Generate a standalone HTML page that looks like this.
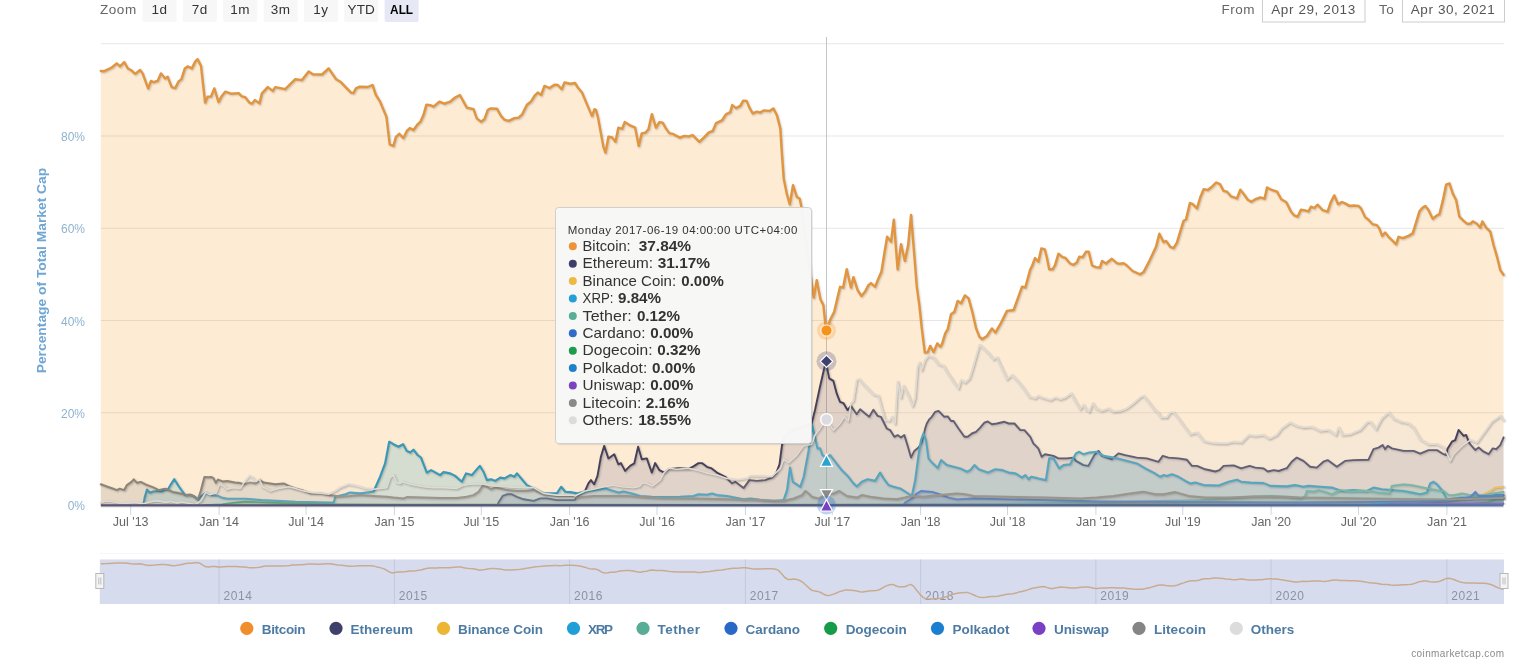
<!DOCTYPE html>
<html lang="en"><head><meta charset="utf-8"><title>Percentage of Total Market Cap</title>
<style>
html,body{margin:0;padding:0;background:#fff;}
body{width:1536px;height:671px;overflow:hidden;font-family:"Liberation Sans", "DejaVu Sans", sans-serif;}
svg{display:block;}
text{font-family:"Liberation Sans", "DejaVu Sans", sans-serif;}
</style></head><body>
<svg width="1536" height="671" viewBox="0 0 1536 671">
<rect width="1536" height="671" fill="#ffffff"/>

<g font-size="13.5px">
<text x="100" y="14.3" fill="#666666" letter-spacing="0.55">Zoom</text>
<rect x="142.5" y="-3" width="34" height="25" rx="2" fill="#f7f7f7"/>
<text x="159.5" y="14.2" text-anchor="middle" fill="#333333" letter-spacing="0.5">1d</text>
<rect x="182.8" y="-3" width="34" height="25" rx="2" fill="#f7f7f7"/>
<text x="199.8" y="14.2" text-anchor="middle" fill="#333333" letter-spacing="0.5">7d</text>
<rect x="223.2" y="-3" width="34" height="25" rx="2" fill="#f7f7f7"/>
<text x="240.2" y="14.2" text-anchor="middle" fill="#333333" letter-spacing="0.5">1m</text>
<rect x="263.6" y="-3" width="34" height="25" rx="2" fill="#f7f7f7"/>
<text x="280.6" y="14.2" text-anchor="middle" fill="#333333" letter-spacing="0.5">3m</text>
<rect x="303.9" y="-3" width="34" height="25" rx="2" fill="#f7f7f7"/>
<text x="320.9" y="14.2" text-anchor="middle" fill="#333333" letter-spacing="0.5">1y</text>
<rect x="344.2" y="-3" width="34" height="25" rx="2" fill="#f7f7f7"/>
<text x="361.2" y="14.2" text-anchor="middle" fill="#333333" letter-spacing="0.1">YTD</text>
<rect x="384.6" y="-3" width="34" height="25" rx="2" fill="#e6e9f5"/>
<text x="401.6" y="14.2" text-anchor="middle" fill="#000000" font-weight="bold" textLength="23" lengthAdjust="spacingAndGlyphs">ALL</text>
</g>
<g font-size="13.5px" fill="#666666">
<text x="1221.5" y="14.4" letter-spacing="0.5">From</text>
<rect x="1262.5" y="-3" width="102.5" height="25" fill="#ffffff" stroke="#cccccc" stroke-width="1"/>
<text x="1313.5" y="14.4" text-anchor="middle" fill="#555555" letter-spacing="0.6">Apr 29, 2013</text>
<text x="1379" y="14.4" letter-spacing="0.5">To</text>
<rect x="1402.5" y="-3" width="102" height="25" fill="#ffffff" stroke="#cccccc" stroke-width="1"/>
<text x="1453" y="14.4" text-anchor="middle" fill="#555555" letter-spacing="0.6">Apr 30, 2021</text>
</g>
<line x1="100.8" x2="1504.0" y1="43.75" y2="43.75" stroke="#e6e6e6" stroke-width="1.2"/>
<line x1="100.8" x2="1504.0" y1="136.00" y2="136.00" stroke="#e6e6e6" stroke-width="1.2"/>
<line x1="100.8" x2="1504.0" y1="228.25" y2="228.25" stroke="#e6e6e6" stroke-width="1.2"/>
<line x1="100.8" x2="1504.0" y1="320.50" y2="320.50" stroke="#e6e6e6" stroke-width="1.2"/>
<line x1="100.8" x2="1504.0" y1="412.75" y2="412.75" stroke="#e6e6e6" stroke-width="1.2"/>
<g font-size="12px" fill="#8fb3cf" text-anchor="end">
<text x="85" y="141.0">80%</text>
<text x="85" y="233.2">60%</text>
<text x="85" y="325.5">40%</text>
<text x="85" y="417.8">20%</text>
<text x="85" y="510.0">0%</text>
</g>
<text transform="translate(46.3 373.3) rotate(-90)" textLength="205.5" lengthAdjust="spacingAndGlyphs" font-size="13.5px" font-weight="bold" fill="#6fa6d4">Percentage of Total Market Cap</text>
<g font-size="12.5px" fill="#666666" text-anchor="middle">
<line x1="130.7" x2="130.7" y1="505" y2="515" stroke="#ccd6eb" stroke-width="1"/>
<text x="130.7" y="526.3" letter-spacing="0">Jul &#39;13</text>
<line x1="219.1" x2="219.1" y1="505" y2="515" stroke="#ccd6eb" stroke-width="1"/>
<text x="219.1" y="526.3" letter-spacing="0">Jan &#39;14</text>
<line x1="306.0" x2="306.0" y1="505" y2="515" stroke="#ccd6eb" stroke-width="1"/>
<text x="306.0" y="526.3" letter-spacing="0">Jul &#39;14</text>
<line x1="394.4" x2="394.4" y1="505" y2="515" stroke="#ccd6eb" stroke-width="1"/>
<text x="394.4" y="526.3" letter-spacing="0">Jan &#39;15</text>
<line x1="481.3" x2="481.3" y1="505" y2="515" stroke="#ccd6eb" stroke-width="1"/>
<text x="481.3" y="526.3" letter-spacing="0">Jul &#39;15</text>
<line x1="569.6" x2="569.6" y1="505" y2="515" stroke="#ccd6eb" stroke-width="1"/>
<text x="569.6" y="526.3" letter-spacing="0">Jan &#39;16</text>
<line x1="657.0" x2="657.0" y1="505" y2="515" stroke="#ccd6eb" stroke-width="1"/>
<text x="657.0" y="526.3" letter-spacing="0">Jul &#39;16</text>
<line x1="745.4" x2="745.4" y1="505" y2="515" stroke="#ccd6eb" stroke-width="1"/>
<text x="745.4" y="526.3" letter-spacing="0">Jan &#39;17</text>
<line x1="832.3" x2="832.3" y1="505" y2="515" stroke="#ccd6eb" stroke-width="1"/>
<text x="832.3" y="526.3" letter-spacing="0">Jul &#39;17</text>
<line x1="920.6" x2="920.6" y1="505" y2="515" stroke="#ccd6eb" stroke-width="1"/>
<text x="920.6" y="526.3" letter-spacing="0">Jan &#39;18</text>
<line x1="1007.5" x2="1007.5" y1="505" y2="515" stroke="#ccd6eb" stroke-width="1"/>
<text x="1007.5" y="526.3" letter-spacing="0">Jul &#39;18</text>
<line x1="1095.9" x2="1095.9" y1="505" y2="515" stroke="#ccd6eb" stroke-width="1"/>
<text x="1095.9" y="526.3" letter-spacing="0">Jan &#39;19</text>
<line x1="1182.8" x2="1182.8" y1="505" y2="515" stroke="#ccd6eb" stroke-width="1"/>
<text x="1182.8" y="526.3" letter-spacing="0">Jul &#39;19</text>
<line x1="1271.1" x2="1271.1" y1="505" y2="515" stroke="#ccd6eb" stroke-width="1"/>
<text x="1271.1" y="526.3" letter-spacing="0">Jan &#39;20</text>
<line x1="1358.5" x2="1358.5" y1="505" y2="515" stroke="#ccd6eb" stroke-width="1"/>
<text x="1358.5" y="526.3" letter-spacing="0">Jul &#39;20</text>
<line x1="1446.9" x2="1446.9" y1="505" y2="515" stroke="#ccd6eb" stroke-width="1"/>
<text x="1446.9" y="526.3" letter-spacing="0">Jan &#39;21</text>
</g>
<line x1="826.5" x2="826.5" y1="37" y2="505" stroke="#c6c6c6" stroke-width="1"/>
<clipPath id="plotclip"><rect x="98.8" y="30" width="1408.7" height="474.8"/></clipPath>
<g stroke-linejoin="round" stroke-linecap="round">
<path d="M100.8 70.9 L104.2 71.2 L111.7 67.5 L116.7 63.4 L120.0 66.4 L124.2 62.2 L128.0 68.7 L130.9 70.0 L135.1 73.9 L140.1 70.0 L142.6 73.4 L148.1 88.4 L150.9 80.9 L153.4 82.2 L157.6 80.9 L160.9 73.4 L165.1 78.4 L167.6 76.7 L171.8 87.2 L175.1 88.1 L178.4 81.7 L181.4 79.2 L184.8 68.4 L187.6 66.4 L191.8 68.4 L195.1 61.7 L197.6 59.2 L201.0 65.9 L205.1 102.6 L207.6 96.7 L211.0 96.4 L214.3 88.4 L218.5 102.1 L221.8 95.9 L225.2 91.7 L231.0 93.7 L238.5 93.1 L241.9 96.4 L245.2 97.2 L249.4 102.6 L251.9 103.7 L254.9 100.1 L259.4 103.4 L261.9 93.4 L267.7 87.1 L272.7 90.9 L275.2 87.1 L285.2 89.2 L295.3 79.2 L301.9 80.1 L308.6 71.4 L312.8 74.2 L322.0 74.5 L328.6 68.4 L336.1 79.2 L340.3 81.7 L351.0 92.6 L353.4 93.0 L355.9 88.4 L359.2 86.7 L367.5 87.0 L372.5 85.0 L375.9 95.0 L380.1 101.7 L386.4 116.7 L389.7 144.3 L393.4 145.9 L395.9 136.8 L399.2 133.8 L403.4 138.1 L406.8 130.9 L409.8 128.1 L413.4 130.1 L417.6 124.3 L420.4 121.7 L423.4 115.1 L426.4 104.7 L430.1 105.1 L433.5 106.7 L439.3 101.7 L444.3 103.7 L450.1 101.7 L455.1 97.5 L459.8 95.0 L463.5 101.7 L466.8 107.6 L473.5 109.2 L476.8 118.4 L481.0 121.7 L484.4 119.2 L487.7 110.1 L490.2 108.4 L496.9 108.7 L501.0 115.9 L504.4 119.7 L508.6 120.9 L514.4 118.1 L518.6 117.6 L521.9 114.7 L526.9 104.7 L531.1 101.4 L534.4 95.9 L537.8 92.5 L541.1 95.0 L544.4 85.9 L549.4 88.0 L554.4 84.7 L557.8 85.0 L561.6 89.2 L564.5 82.5 L570.3 83.7 L575.0 83.0 L577.8 87.5 L582.0 92.5 L588.7 108.4 L592.0 115.9 L594.5 109.2 L596.0 110.1 L598.0 117.6 L600.9 133.4 L603.4 146.8 L605.4 152.6 L608.4 136.8 L611.7 137.1 L615.4 141.8 L618.4 127.6 L622.1 128.8 L624.7 122.1 L630.1 125.4 L635.1 127.6 L638.7 145.9 L641.7 133.4 L645.4 132.6 L648.4 129.3 L651.8 114.2 L655.9 127.6 L659.3 122.1 L662.6 122.6 L665.9 128.4 L669.3 133.1 L672.6 133.8 L679.8 137.6 L684.3 135.9 L688.5 136.4 L692.6 135.1 L699.3 141.8 L704.3 137.1 L708.5 132.6 L712.7 130.9 L716.0 123.1 L721.9 120.4 L726.0 114.2 L730.2 112.1 L732.2 105.1 L736.0 108.1 L740.2 105.9 L743.2 100.6 L746.6 100.9 L749.4 107.6 L752.7 113.4 L756.9 111.7 L760.2 112.6 L763.6 110.4 L769.4 110.9 L773.3 108.4 L776.9 115.1 L780.3 128.4 L781.9 153.5 L783.7 178.4 L786.7 193.4 L789.7 204.3 L793.0 185.1 L796.7 196.7 L799.7 198.7 L801.4 206.8 L813.7 297.6 L816.7 280.1 L820.4 299.3 L823.4 305.1 L826.0 330.5 L830.0 320.1 L834.2 311.7 L837.5 297.6 L840.1 286.8 L843.1 287.6 L846.7 269.3 L850.9 287.6 L853.4 277.1 L857.6 290.1 L861.4 296.0 L865.1 291.5 L868.4 285.1 L870.9 283.1 L875.1 286.8 L878.4 278.4 L881.4 271.8 L884.3 253.4 L887.1 236.7 L891.0 241.7 L893.8 219.7 L897.6 269.3 L901.0 244.2 L904.8 260.9 L908.1 245.1 L911.0 215.0 L914.3 255.1 L916.8 286.8 L919.3 305.0 L921.8 328.4 L924.8 352.6 L927.7 352.1 L930.2 345.9 L933.5 352.1 L937.2 343.4 L940.2 346.8 L941.9 344.3 L945.2 333.4 L947.7 329.2 L951.0 314.2 L954.4 311.7 L957.7 300.9 L961.0 303.4 L964.9 295.4 L968.6 298.4 L972.7 313.4 L976.1 328.4 L979.4 336.7 L981.9 339.2 L986.9 335.9 L991.9 328.4 L995.3 332.6 L1000.3 324.2 L1006.9 310.9 L1013.6 310.0 L1017.8 298.4 L1022.0 286.7 L1025.3 287.5 L1030.0 270.1 L1032.0 266.0 L1035.0 258.1 L1038.3 261.8 L1041.3 248.4 L1044.7 249.3 L1046.7 256.8 L1049.2 269.3 L1052.5 269.3 L1055.0 265.1 L1058.4 253.8 L1062.5 257.1 L1065.0 257.6 L1070.1 263.5 L1073.4 264.8 L1076.7 262.6 L1079.2 256.8 L1082.6 257.1 L1085.9 251.8 L1088.7 251.8 L1092.1 265.5 L1095.9 267.1 L1099.8 267.6 L1102.1 261.0 L1105.9 263.5 L1111.8 258.8 L1116.8 263.1 L1120.1 263.8 L1123.5 263.1 L1126.8 265.5 L1132.6 271.0 L1140.1 274.3 L1143.5 272.1 L1149.3 261.0 L1156.0 246.8 L1159.3 233.7 L1163.5 242.1 L1166.0 240.9 L1170.2 246.8 L1173.5 248.1 L1176.9 242.6 L1180.2 231.7 L1183.5 220.9 L1186.0 219.2 L1189.9 203.0 L1192.7 204.2 L1196.9 208.4 L1200.2 197.5 L1203.6 189.2 L1207.7 190.0 L1211.9 186.7 L1216.1 182.5 L1219.9 184.2 L1223.6 190.9 L1226.9 191.7 L1231.1 196.4 L1236.9 198.4 L1240.3 189.7 L1244.4 195.0 L1247.8 199.7 L1251.1 201.7 L1255.3 199.2 L1260.3 197.5 L1264.5 198.7 L1267.0 187.5 L1271.1 189.7 L1277.0 191.7 L1281.2 199.2 L1286.0 202.0 L1286.7 203.0 L1290.9 211.4 L1294.2 215.4 L1297.5 216.7 L1300.9 209.7 L1305.0 210.4 L1308.4 211.4 L1310.9 206.7 L1314.2 208.0 L1317.6 204.7 L1322.6 210.1 L1327.6 211.7 L1330.9 201.7 L1334.3 195.4 L1338.1 204.2 L1341.8 202.0 L1345.1 203.4 L1349.3 205.9 L1353.4 205.5 L1358.4 205.9 L1361.0 208.4 L1365.1 217.1 L1368.5 219.7 L1372.6 224.2 L1376.8 225.1 L1379.3 228.4 L1382.1 235.9 L1385.1 232.6 L1388.5 236.8 L1392.7 240.9 L1396.0 244.3 L1398.5 236.8 L1402.7 238.1 L1408.5 235.9 L1412.7 233.4 L1416.0 222.6 L1419.4 211.4 L1422.7 207.5 L1425.2 205.9 L1428.5 210.1 L1432.7 218.7 L1436.9 215.4 L1439.4 214.2 L1442.7 200.9 L1446.1 184.7 L1449.4 183.4 L1452.7 193.4 L1456.1 200.0 L1459.4 216.7 L1463.6 220.9 L1466.9 223.7 L1470.3 223.7 L1472.8 221.4 L1476.9 223.7 L1480.3 227.6 L1482.3 221.4 L1486.1 227.6 L1490.3 231.7 L1493.6 245.1 L1497.0 256.8 L1500.3 270.1 L1503.5 274.8 L1503.5 505.0 L100.8 505.0 Z" fill="#f7931a" fill-opacity="0.19" stroke="none"/>
<g clip-path="url(#plotclip)">
<path d="M100.8 70.9 L104.2 71.2 L111.7 67.5 L116.7 63.4 L120.0 66.4 L124.2 62.2 L128.0 68.7 L130.9 70.0 L135.1 73.9 L140.1 70.0 L142.6 73.4 L148.1 88.4 L150.9 80.9 L153.4 82.2 L157.6 80.9 L160.9 73.4 L165.1 78.4 L167.6 76.7 L171.8 87.2 L175.1 88.1 L178.4 81.7 L181.4 79.2 L184.8 68.4 L187.6 66.4 L191.8 68.4 L195.1 61.7 L197.6 59.2 L201.0 65.9 L205.1 102.6 L207.6 96.7 L211.0 96.4 L214.3 88.4 L218.5 102.1 L221.8 95.9 L225.2 91.7 L231.0 93.7 L238.5 93.1 L241.9 96.4 L245.2 97.2 L249.4 102.6 L251.9 103.7 L254.9 100.1 L259.4 103.4 L261.9 93.4 L267.7 87.1 L272.7 90.9 L275.2 87.1 L285.2 89.2 L295.3 79.2 L301.9 80.1 L308.6 71.4 L312.8 74.2 L322.0 74.5 L328.6 68.4 L336.1 79.2 L340.3 81.7 L351.0 92.6 L353.4 93.0 L355.9 88.4 L359.2 86.7 L367.5 87.0 L372.5 85.0 L375.9 95.0 L380.1 101.7 L386.4 116.7 L389.7 144.3 L393.4 145.9 L395.9 136.8 L399.2 133.8 L403.4 138.1 L406.8 130.9 L409.8 128.1 L413.4 130.1 L417.6 124.3 L420.4 121.7 L423.4 115.1 L426.4 104.7 L430.1 105.1 L433.5 106.7 L439.3 101.7 L444.3 103.7 L450.1 101.7 L455.1 97.5 L459.8 95.0 L463.5 101.7 L466.8 107.6 L473.5 109.2 L476.8 118.4 L481.0 121.7 L484.4 119.2 L487.7 110.1 L490.2 108.4 L496.9 108.7 L501.0 115.9 L504.4 119.7 L508.6 120.9 L514.4 118.1 L518.6 117.6 L521.9 114.7 L526.9 104.7 L531.1 101.4 L534.4 95.9 L537.8 92.5 L541.1 95.0 L544.4 85.9 L549.4 88.0 L554.4 84.7 L557.8 85.0 L561.6 89.2 L564.5 82.5 L570.3 83.7 L575.0 83.0 L577.8 87.5 L582.0 92.5 L588.7 108.4 L592.0 115.9 L594.5 109.2 L596.0 110.1 L598.0 117.6 L600.9 133.4 L603.4 146.8 L605.4 152.6 L608.4 136.8 L611.7 137.1 L615.4 141.8 L618.4 127.6 L622.1 128.8 L624.7 122.1 L630.1 125.4 L635.1 127.6 L638.7 145.9 L641.7 133.4 L645.4 132.6 L648.4 129.3 L651.8 114.2 L655.9 127.6 L659.3 122.1 L662.6 122.6 L665.9 128.4 L669.3 133.1 L672.6 133.8 L679.8 137.6 L684.3 135.9 L688.5 136.4 L692.6 135.1 L699.3 141.8 L704.3 137.1 L708.5 132.6 L712.7 130.9 L716.0 123.1 L721.9 120.4 L726.0 114.2 L730.2 112.1 L732.2 105.1 L736.0 108.1 L740.2 105.9 L743.2 100.6 L746.6 100.9 L749.4 107.6 L752.7 113.4 L756.9 111.7 L760.2 112.6 L763.6 110.4 L769.4 110.9 L773.3 108.4 L776.9 115.1 L780.3 128.4 L781.9 153.5 L783.7 178.4 L786.7 193.4 L789.7 204.3 L793.0 185.1 L796.7 196.7 L799.7 198.7 L801.4 206.8 L813.7 297.6 L816.7 280.1 L820.4 299.3 L823.4 305.1 L826.0 330.5 L830.0 320.1 L834.2 311.7 L837.5 297.6 L840.1 286.8 L843.1 287.6 L846.7 269.3 L850.9 287.6 L853.4 277.1 L857.6 290.1 L861.4 296.0 L865.1 291.5 L868.4 285.1 L870.9 283.1 L875.1 286.8 L878.4 278.4 L881.4 271.8 L884.3 253.4 L887.1 236.7 L891.0 241.7 L893.8 219.7 L897.6 269.3 L901.0 244.2 L904.8 260.9 L908.1 245.1 L911.0 215.0 L914.3 255.1 L916.8 286.8 L919.3 305.0 L921.8 328.4 L924.8 352.6 L927.7 352.1 L930.2 345.9 L933.5 352.1 L937.2 343.4 L940.2 346.8 L941.9 344.3 L945.2 333.4 L947.7 329.2 L951.0 314.2 L954.4 311.7 L957.7 300.9 L961.0 303.4 L964.9 295.4 L968.6 298.4 L972.7 313.4 L976.1 328.4 L979.4 336.7 L981.9 339.2 L986.9 335.9 L991.9 328.4 L995.3 332.6 L1000.3 324.2 L1006.9 310.9 L1013.6 310.0 L1017.8 298.4 L1022.0 286.7 L1025.3 287.5 L1030.0 270.1 L1032.0 266.0 L1035.0 258.1 L1038.3 261.8 L1041.3 248.4 L1044.7 249.3 L1046.7 256.8 L1049.2 269.3 L1052.5 269.3 L1055.0 265.1 L1058.4 253.8 L1062.5 257.1 L1065.0 257.6 L1070.1 263.5 L1073.4 264.8 L1076.7 262.6 L1079.2 256.8 L1082.6 257.1 L1085.9 251.8 L1088.7 251.8 L1092.1 265.5 L1095.9 267.1 L1099.8 267.6 L1102.1 261.0 L1105.9 263.5 L1111.8 258.8 L1116.8 263.1 L1120.1 263.8 L1123.5 263.1 L1126.8 265.5 L1132.6 271.0 L1140.1 274.3 L1143.5 272.1 L1149.3 261.0 L1156.0 246.8 L1159.3 233.7 L1163.5 242.1 L1166.0 240.9 L1170.2 246.8 L1173.5 248.1 L1176.9 242.6 L1180.2 231.7 L1183.5 220.9 L1186.0 219.2 L1189.9 203.0 L1192.7 204.2 L1196.9 208.4 L1200.2 197.5 L1203.6 189.2 L1207.7 190.0 L1211.9 186.7 L1216.1 182.5 L1219.9 184.2 L1223.6 190.9 L1226.9 191.7 L1231.1 196.4 L1236.9 198.4 L1240.3 189.7 L1244.4 195.0 L1247.8 199.7 L1251.1 201.7 L1255.3 199.2 L1260.3 197.5 L1264.5 198.7 L1267.0 187.5 L1271.1 189.7 L1277.0 191.7 L1281.2 199.2 L1286.0 202.0 L1286.7 203.0 L1290.9 211.4 L1294.2 215.4 L1297.5 216.7 L1300.9 209.7 L1305.0 210.4 L1308.4 211.4 L1310.9 206.7 L1314.2 208.0 L1317.6 204.7 L1322.6 210.1 L1327.6 211.7 L1330.9 201.7 L1334.3 195.4 L1338.1 204.2 L1341.8 202.0 L1345.1 203.4 L1349.3 205.9 L1353.4 205.5 L1358.4 205.9 L1361.0 208.4 L1365.1 217.1 L1368.5 219.7 L1372.6 224.2 L1376.8 225.1 L1379.3 228.4 L1382.1 235.9 L1385.1 232.6 L1388.5 236.8 L1392.7 240.9 L1396.0 244.3 L1398.5 236.8 L1402.7 238.1 L1408.5 235.9 L1412.7 233.4 L1416.0 222.6 L1419.4 211.4 L1422.7 207.5 L1425.2 205.9 L1428.5 210.1 L1432.7 218.7 L1436.9 215.4 L1439.4 214.2 L1442.7 200.9 L1446.1 184.7 L1449.4 183.4 L1452.7 193.4 L1456.1 200.0 L1459.4 216.7 L1463.6 220.9 L1466.9 223.7 L1470.3 223.7 L1472.8 221.4 L1476.9 223.7 L1480.3 227.6 L1482.3 221.4 L1486.1 227.6 L1490.3 231.7 L1493.6 245.1 L1497.0 256.8 L1500.3 270.1 L1503.5 274.8" transform="translate(1 1)" fill="none" stroke="#000000" stroke-opacity="0.035" stroke-width="5"/>
<path d="M100.8 70.9 L104.2 71.2 L111.7 67.5 L116.7 63.4 L120.0 66.4 L124.2 62.2 L128.0 68.7 L130.9 70.0 L135.1 73.9 L140.1 70.0 L142.6 73.4 L148.1 88.4 L150.9 80.9 L153.4 82.2 L157.6 80.9 L160.9 73.4 L165.1 78.4 L167.6 76.7 L171.8 87.2 L175.1 88.1 L178.4 81.7 L181.4 79.2 L184.8 68.4 L187.6 66.4 L191.8 68.4 L195.1 61.7 L197.6 59.2 L201.0 65.9 L205.1 102.6 L207.6 96.7 L211.0 96.4 L214.3 88.4 L218.5 102.1 L221.8 95.9 L225.2 91.7 L231.0 93.7 L238.5 93.1 L241.9 96.4 L245.2 97.2 L249.4 102.6 L251.9 103.7 L254.9 100.1 L259.4 103.4 L261.9 93.4 L267.7 87.1 L272.7 90.9 L275.2 87.1 L285.2 89.2 L295.3 79.2 L301.9 80.1 L308.6 71.4 L312.8 74.2 L322.0 74.5 L328.6 68.4 L336.1 79.2 L340.3 81.7 L351.0 92.6 L353.4 93.0 L355.9 88.4 L359.2 86.7 L367.5 87.0 L372.5 85.0 L375.9 95.0 L380.1 101.7 L386.4 116.7 L389.7 144.3 L393.4 145.9 L395.9 136.8 L399.2 133.8 L403.4 138.1 L406.8 130.9 L409.8 128.1 L413.4 130.1 L417.6 124.3 L420.4 121.7 L423.4 115.1 L426.4 104.7 L430.1 105.1 L433.5 106.7 L439.3 101.7 L444.3 103.7 L450.1 101.7 L455.1 97.5 L459.8 95.0 L463.5 101.7 L466.8 107.6 L473.5 109.2 L476.8 118.4 L481.0 121.7 L484.4 119.2 L487.7 110.1 L490.2 108.4 L496.9 108.7 L501.0 115.9 L504.4 119.7 L508.6 120.9 L514.4 118.1 L518.6 117.6 L521.9 114.7 L526.9 104.7 L531.1 101.4 L534.4 95.9 L537.8 92.5 L541.1 95.0 L544.4 85.9 L549.4 88.0 L554.4 84.7 L557.8 85.0 L561.6 89.2 L564.5 82.5 L570.3 83.7 L575.0 83.0 L577.8 87.5 L582.0 92.5 L588.7 108.4 L592.0 115.9 L594.5 109.2 L596.0 110.1 L598.0 117.6 L600.9 133.4 L603.4 146.8 L605.4 152.6 L608.4 136.8 L611.7 137.1 L615.4 141.8 L618.4 127.6 L622.1 128.8 L624.7 122.1 L630.1 125.4 L635.1 127.6 L638.7 145.9 L641.7 133.4 L645.4 132.6 L648.4 129.3 L651.8 114.2 L655.9 127.6 L659.3 122.1 L662.6 122.6 L665.9 128.4 L669.3 133.1 L672.6 133.8 L679.8 137.6 L684.3 135.9 L688.5 136.4 L692.6 135.1 L699.3 141.8 L704.3 137.1 L708.5 132.6 L712.7 130.9 L716.0 123.1 L721.9 120.4 L726.0 114.2 L730.2 112.1 L732.2 105.1 L736.0 108.1 L740.2 105.9 L743.2 100.6 L746.6 100.9 L749.4 107.6 L752.7 113.4 L756.9 111.7 L760.2 112.6 L763.6 110.4 L769.4 110.9 L773.3 108.4 L776.9 115.1 L780.3 128.4 L781.9 153.5 L783.7 178.4 L786.7 193.4 L789.7 204.3 L793.0 185.1 L796.7 196.7 L799.7 198.7 L801.4 206.8 L813.7 297.6 L816.7 280.1 L820.4 299.3 L823.4 305.1 L826.0 330.5 L830.0 320.1 L834.2 311.7 L837.5 297.6 L840.1 286.8 L843.1 287.6 L846.7 269.3 L850.9 287.6 L853.4 277.1 L857.6 290.1 L861.4 296.0 L865.1 291.5 L868.4 285.1 L870.9 283.1 L875.1 286.8 L878.4 278.4 L881.4 271.8 L884.3 253.4 L887.1 236.7 L891.0 241.7 L893.8 219.7 L897.6 269.3 L901.0 244.2 L904.8 260.9 L908.1 245.1 L911.0 215.0 L914.3 255.1 L916.8 286.8 L919.3 305.0 L921.8 328.4 L924.8 352.6 L927.7 352.1 L930.2 345.9 L933.5 352.1 L937.2 343.4 L940.2 346.8 L941.9 344.3 L945.2 333.4 L947.7 329.2 L951.0 314.2 L954.4 311.7 L957.7 300.9 L961.0 303.4 L964.9 295.4 L968.6 298.4 L972.7 313.4 L976.1 328.4 L979.4 336.7 L981.9 339.2 L986.9 335.9 L991.9 328.4 L995.3 332.6 L1000.3 324.2 L1006.9 310.9 L1013.6 310.0 L1017.8 298.4 L1022.0 286.7 L1025.3 287.5 L1030.0 270.1 L1032.0 266.0 L1035.0 258.1 L1038.3 261.8 L1041.3 248.4 L1044.7 249.3 L1046.7 256.8 L1049.2 269.3 L1052.5 269.3 L1055.0 265.1 L1058.4 253.8 L1062.5 257.1 L1065.0 257.6 L1070.1 263.5 L1073.4 264.8 L1076.7 262.6 L1079.2 256.8 L1082.6 257.1 L1085.9 251.8 L1088.7 251.8 L1092.1 265.5 L1095.9 267.1 L1099.8 267.6 L1102.1 261.0 L1105.9 263.5 L1111.8 258.8 L1116.8 263.1 L1120.1 263.8 L1123.5 263.1 L1126.8 265.5 L1132.6 271.0 L1140.1 274.3 L1143.5 272.1 L1149.3 261.0 L1156.0 246.8 L1159.3 233.7 L1163.5 242.1 L1166.0 240.9 L1170.2 246.8 L1173.5 248.1 L1176.9 242.6 L1180.2 231.7 L1183.5 220.9 L1186.0 219.2 L1189.9 203.0 L1192.7 204.2 L1196.9 208.4 L1200.2 197.5 L1203.6 189.2 L1207.7 190.0 L1211.9 186.7 L1216.1 182.5 L1219.9 184.2 L1223.6 190.9 L1226.9 191.7 L1231.1 196.4 L1236.9 198.4 L1240.3 189.7 L1244.4 195.0 L1247.8 199.7 L1251.1 201.7 L1255.3 199.2 L1260.3 197.5 L1264.5 198.7 L1267.0 187.5 L1271.1 189.7 L1277.0 191.7 L1281.2 199.2 L1286.0 202.0 L1286.7 203.0 L1290.9 211.4 L1294.2 215.4 L1297.5 216.7 L1300.9 209.7 L1305.0 210.4 L1308.4 211.4 L1310.9 206.7 L1314.2 208.0 L1317.6 204.7 L1322.6 210.1 L1327.6 211.7 L1330.9 201.7 L1334.3 195.4 L1338.1 204.2 L1341.8 202.0 L1345.1 203.4 L1349.3 205.9 L1353.4 205.5 L1358.4 205.9 L1361.0 208.4 L1365.1 217.1 L1368.5 219.7 L1372.6 224.2 L1376.8 225.1 L1379.3 228.4 L1382.1 235.9 L1385.1 232.6 L1388.5 236.8 L1392.7 240.9 L1396.0 244.3 L1398.5 236.8 L1402.7 238.1 L1408.5 235.9 L1412.7 233.4 L1416.0 222.6 L1419.4 211.4 L1422.7 207.5 L1425.2 205.9 L1428.5 210.1 L1432.7 218.7 L1436.9 215.4 L1439.4 214.2 L1442.7 200.9 L1446.1 184.7 L1449.4 183.4 L1452.7 193.4 L1456.1 200.0 L1459.4 216.7 L1463.6 220.9 L1466.9 223.7 L1470.3 223.7 L1472.8 221.4 L1476.9 223.7 L1480.3 227.6 L1482.3 221.4 L1486.1 227.6 L1490.3 231.7 L1493.6 245.1 L1497.0 256.8 L1500.3 270.1 L1503.5 274.8" transform="translate(1 1)" fill="none" stroke="#000000" stroke-opacity="0.07" stroke-width="3"/>
<path d="M100.8 70.9 L104.2 71.2 L111.7 67.5 L116.7 63.4 L120.0 66.4 L124.2 62.2 L128.0 68.7 L130.9 70.0 L135.1 73.9 L140.1 70.0 L142.6 73.4 L148.1 88.4 L150.9 80.9 L153.4 82.2 L157.6 80.9 L160.9 73.4 L165.1 78.4 L167.6 76.7 L171.8 87.2 L175.1 88.1 L178.4 81.7 L181.4 79.2 L184.8 68.4 L187.6 66.4 L191.8 68.4 L195.1 61.7 L197.6 59.2 L201.0 65.9 L205.1 102.6 L207.6 96.7 L211.0 96.4 L214.3 88.4 L218.5 102.1 L221.8 95.9 L225.2 91.7 L231.0 93.7 L238.5 93.1 L241.9 96.4 L245.2 97.2 L249.4 102.6 L251.9 103.7 L254.9 100.1 L259.4 103.4 L261.9 93.4 L267.7 87.1 L272.7 90.9 L275.2 87.1 L285.2 89.2 L295.3 79.2 L301.9 80.1 L308.6 71.4 L312.8 74.2 L322.0 74.5 L328.6 68.4 L336.1 79.2 L340.3 81.7 L351.0 92.6 L353.4 93.0 L355.9 88.4 L359.2 86.7 L367.5 87.0 L372.5 85.0 L375.9 95.0 L380.1 101.7 L386.4 116.7 L389.7 144.3 L393.4 145.9 L395.9 136.8 L399.2 133.8 L403.4 138.1 L406.8 130.9 L409.8 128.1 L413.4 130.1 L417.6 124.3 L420.4 121.7 L423.4 115.1 L426.4 104.7 L430.1 105.1 L433.5 106.7 L439.3 101.7 L444.3 103.7 L450.1 101.7 L455.1 97.5 L459.8 95.0 L463.5 101.7 L466.8 107.6 L473.5 109.2 L476.8 118.4 L481.0 121.7 L484.4 119.2 L487.7 110.1 L490.2 108.4 L496.9 108.7 L501.0 115.9 L504.4 119.7 L508.6 120.9 L514.4 118.1 L518.6 117.6 L521.9 114.7 L526.9 104.7 L531.1 101.4 L534.4 95.9 L537.8 92.5 L541.1 95.0 L544.4 85.9 L549.4 88.0 L554.4 84.7 L557.8 85.0 L561.6 89.2 L564.5 82.5 L570.3 83.7 L575.0 83.0 L577.8 87.5 L582.0 92.5 L588.7 108.4 L592.0 115.9 L594.5 109.2 L596.0 110.1 L598.0 117.6 L600.9 133.4 L603.4 146.8 L605.4 152.6 L608.4 136.8 L611.7 137.1 L615.4 141.8 L618.4 127.6 L622.1 128.8 L624.7 122.1 L630.1 125.4 L635.1 127.6 L638.7 145.9 L641.7 133.4 L645.4 132.6 L648.4 129.3 L651.8 114.2 L655.9 127.6 L659.3 122.1 L662.6 122.6 L665.9 128.4 L669.3 133.1 L672.6 133.8 L679.8 137.6 L684.3 135.9 L688.5 136.4 L692.6 135.1 L699.3 141.8 L704.3 137.1 L708.5 132.6 L712.7 130.9 L716.0 123.1 L721.9 120.4 L726.0 114.2 L730.2 112.1 L732.2 105.1 L736.0 108.1 L740.2 105.9 L743.2 100.6 L746.6 100.9 L749.4 107.6 L752.7 113.4 L756.9 111.7 L760.2 112.6 L763.6 110.4 L769.4 110.9 L773.3 108.4 L776.9 115.1 L780.3 128.4 L781.9 153.5 L783.7 178.4 L786.7 193.4 L789.7 204.3 L793.0 185.1 L796.7 196.7 L799.7 198.7 L801.4 206.8 L813.7 297.6 L816.7 280.1 L820.4 299.3 L823.4 305.1 L826.0 330.5 L830.0 320.1 L834.2 311.7 L837.5 297.6 L840.1 286.8 L843.1 287.6 L846.7 269.3 L850.9 287.6 L853.4 277.1 L857.6 290.1 L861.4 296.0 L865.1 291.5 L868.4 285.1 L870.9 283.1 L875.1 286.8 L878.4 278.4 L881.4 271.8 L884.3 253.4 L887.1 236.7 L891.0 241.7 L893.8 219.7 L897.6 269.3 L901.0 244.2 L904.8 260.9 L908.1 245.1 L911.0 215.0 L914.3 255.1 L916.8 286.8 L919.3 305.0 L921.8 328.4 L924.8 352.6 L927.7 352.1 L930.2 345.9 L933.5 352.1 L937.2 343.4 L940.2 346.8 L941.9 344.3 L945.2 333.4 L947.7 329.2 L951.0 314.2 L954.4 311.7 L957.7 300.9 L961.0 303.4 L964.9 295.4 L968.6 298.4 L972.7 313.4 L976.1 328.4 L979.4 336.7 L981.9 339.2 L986.9 335.9 L991.9 328.4 L995.3 332.6 L1000.3 324.2 L1006.9 310.9 L1013.6 310.0 L1017.8 298.4 L1022.0 286.7 L1025.3 287.5 L1030.0 270.1 L1032.0 266.0 L1035.0 258.1 L1038.3 261.8 L1041.3 248.4 L1044.7 249.3 L1046.7 256.8 L1049.2 269.3 L1052.5 269.3 L1055.0 265.1 L1058.4 253.8 L1062.5 257.1 L1065.0 257.6 L1070.1 263.5 L1073.4 264.8 L1076.7 262.6 L1079.2 256.8 L1082.6 257.1 L1085.9 251.8 L1088.7 251.8 L1092.1 265.5 L1095.9 267.1 L1099.8 267.6 L1102.1 261.0 L1105.9 263.5 L1111.8 258.8 L1116.8 263.1 L1120.1 263.8 L1123.5 263.1 L1126.8 265.5 L1132.6 271.0 L1140.1 274.3 L1143.5 272.1 L1149.3 261.0 L1156.0 246.8 L1159.3 233.7 L1163.5 242.1 L1166.0 240.9 L1170.2 246.8 L1173.5 248.1 L1176.9 242.6 L1180.2 231.7 L1183.5 220.9 L1186.0 219.2 L1189.9 203.0 L1192.7 204.2 L1196.9 208.4 L1200.2 197.5 L1203.6 189.2 L1207.7 190.0 L1211.9 186.7 L1216.1 182.5 L1219.9 184.2 L1223.6 190.9 L1226.9 191.7 L1231.1 196.4 L1236.9 198.4 L1240.3 189.7 L1244.4 195.0 L1247.8 199.7 L1251.1 201.7 L1255.3 199.2 L1260.3 197.5 L1264.5 198.7 L1267.0 187.5 L1271.1 189.7 L1277.0 191.7 L1281.2 199.2 L1286.0 202.0 L1286.7 203.0 L1290.9 211.4 L1294.2 215.4 L1297.5 216.7 L1300.9 209.7 L1305.0 210.4 L1308.4 211.4 L1310.9 206.7 L1314.2 208.0 L1317.6 204.7 L1322.6 210.1 L1327.6 211.7 L1330.9 201.7 L1334.3 195.4 L1338.1 204.2 L1341.8 202.0 L1345.1 203.4 L1349.3 205.9 L1353.4 205.5 L1358.4 205.9 L1361.0 208.4 L1365.1 217.1 L1368.5 219.7 L1372.6 224.2 L1376.8 225.1 L1379.3 228.4 L1382.1 235.9 L1385.1 232.6 L1388.5 236.8 L1392.7 240.9 L1396.0 244.3 L1398.5 236.8 L1402.7 238.1 L1408.5 235.9 L1412.7 233.4 L1416.0 222.6 L1419.4 211.4 L1422.7 207.5 L1425.2 205.9 L1428.5 210.1 L1432.7 218.7 L1436.9 215.4 L1439.4 214.2 L1442.7 200.9 L1446.1 184.7 L1449.4 183.4 L1452.7 193.4 L1456.1 200.0 L1459.4 216.7 L1463.6 220.9 L1466.9 223.7 L1470.3 223.7 L1472.8 221.4 L1476.9 223.7 L1480.3 227.6 L1482.3 221.4 L1486.1 227.6 L1490.3 231.7 L1493.6 245.1 L1497.0 256.8 L1500.3 270.1 L1503.5 274.8" transform="translate(1 1)" fill="none" stroke="#000000" stroke-opacity="0.11" stroke-width="1"/>
</g>
<path d="M100.8 70.9 L104.2 71.2 L111.7 67.5 L116.7 63.4 L120.0 66.4 L124.2 62.2 L128.0 68.7 L130.9 70.0 L135.1 73.9 L140.1 70.0 L142.6 73.4 L148.1 88.4 L150.9 80.9 L153.4 82.2 L157.6 80.9 L160.9 73.4 L165.1 78.4 L167.6 76.7 L171.8 87.2 L175.1 88.1 L178.4 81.7 L181.4 79.2 L184.8 68.4 L187.6 66.4 L191.8 68.4 L195.1 61.7 L197.6 59.2 L201.0 65.9 L205.1 102.6 L207.6 96.7 L211.0 96.4 L214.3 88.4 L218.5 102.1 L221.8 95.9 L225.2 91.7 L231.0 93.7 L238.5 93.1 L241.9 96.4 L245.2 97.2 L249.4 102.6 L251.9 103.7 L254.9 100.1 L259.4 103.4 L261.9 93.4 L267.7 87.1 L272.7 90.9 L275.2 87.1 L285.2 89.2 L295.3 79.2 L301.9 80.1 L308.6 71.4 L312.8 74.2 L322.0 74.5 L328.6 68.4 L336.1 79.2 L340.3 81.7 L351.0 92.6 L353.4 93.0 L355.9 88.4 L359.2 86.7 L367.5 87.0 L372.5 85.0 L375.9 95.0 L380.1 101.7 L386.4 116.7 L389.7 144.3 L393.4 145.9 L395.9 136.8 L399.2 133.8 L403.4 138.1 L406.8 130.9 L409.8 128.1 L413.4 130.1 L417.6 124.3 L420.4 121.7 L423.4 115.1 L426.4 104.7 L430.1 105.1 L433.5 106.7 L439.3 101.7 L444.3 103.7 L450.1 101.7 L455.1 97.5 L459.8 95.0 L463.5 101.7 L466.8 107.6 L473.5 109.2 L476.8 118.4 L481.0 121.7 L484.4 119.2 L487.7 110.1 L490.2 108.4 L496.9 108.7 L501.0 115.9 L504.4 119.7 L508.6 120.9 L514.4 118.1 L518.6 117.6 L521.9 114.7 L526.9 104.7 L531.1 101.4 L534.4 95.9 L537.8 92.5 L541.1 95.0 L544.4 85.9 L549.4 88.0 L554.4 84.7 L557.8 85.0 L561.6 89.2 L564.5 82.5 L570.3 83.7 L575.0 83.0 L577.8 87.5 L582.0 92.5 L588.7 108.4 L592.0 115.9 L594.5 109.2 L596.0 110.1 L598.0 117.6 L600.9 133.4 L603.4 146.8 L605.4 152.6 L608.4 136.8 L611.7 137.1 L615.4 141.8 L618.4 127.6 L622.1 128.8 L624.7 122.1 L630.1 125.4 L635.1 127.6 L638.7 145.9 L641.7 133.4 L645.4 132.6 L648.4 129.3 L651.8 114.2 L655.9 127.6 L659.3 122.1 L662.6 122.6 L665.9 128.4 L669.3 133.1 L672.6 133.8 L679.8 137.6 L684.3 135.9 L688.5 136.4 L692.6 135.1 L699.3 141.8 L704.3 137.1 L708.5 132.6 L712.7 130.9 L716.0 123.1 L721.9 120.4 L726.0 114.2 L730.2 112.1 L732.2 105.1 L736.0 108.1 L740.2 105.9 L743.2 100.6 L746.6 100.9 L749.4 107.6 L752.7 113.4 L756.9 111.7 L760.2 112.6 L763.6 110.4 L769.4 110.9 L773.3 108.4 L776.9 115.1 L780.3 128.4 L781.9 153.5 L783.7 178.4 L786.7 193.4 L789.7 204.3 L793.0 185.1 L796.7 196.7 L799.7 198.7 L801.4 206.8 L813.7 297.6 L816.7 280.1 L820.4 299.3 L823.4 305.1 L826.0 330.5 L830.0 320.1 L834.2 311.7 L837.5 297.6 L840.1 286.8 L843.1 287.6 L846.7 269.3 L850.9 287.6 L853.4 277.1 L857.6 290.1 L861.4 296.0 L865.1 291.5 L868.4 285.1 L870.9 283.1 L875.1 286.8 L878.4 278.4 L881.4 271.8 L884.3 253.4 L887.1 236.7 L891.0 241.7 L893.8 219.7 L897.6 269.3 L901.0 244.2 L904.8 260.9 L908.1 245.1 L911.0 215.0 L914.3 255.1 L916.8 286.8 L919.3 305.0 L921.8 328.4 L924.8 352.6 L927.7 352.1 L930.2 345.9 L933.5 352.1 L937.2 343.4 L940.2 346.8 L941.9 344.3 L945.2 333.4 L947.7 329.2 L951.0 314.2 L954.4 311.7 L957.7 300.9 L961.0 303.4 L964.9 295.4 L968.6 298.4 L972.7 313.4 L976.1 328.4 L979.4 336.7 L981.9 339.2 L986.9 335.9 L991.9 328.4 L995.3 332.6 L1000.3 324.2 L1006.9 310.9 L1013.6 310.0 L1017.8 298.4 L1022.0 286.7 L1025.3 287.5 L1030.0 270.1 L1032.0 266.0 L1035.0 258.1 L1038.3 261.8 L1041.3 248.4 L1044.7 249.3 L1046.7 256.8 L1049.2 269.3 L1052.5 269.3 L1055.0 265.1 L1058.4 253.8 L1062.5 257.1 L1065.0 257.6 L1070.1 263.5 L1073.4 264.8 L1076.7 262.6 L1079.2 256.8 L1082.6 257.1 L1085.9 251.8 L1088.7 251.8 L1092.1 265.5 L1095.9 267.1 L1099.8 267.6 L1102.1 261.0 L1105.9 263.5 L1111.8 258.8 L1116.8 263.1 L1120.1 263.8 L1123.5 263.1 L1126.8 265.5 L1132.6 271.0 L1140.1 274.3 L1143.5 272.1 L1149.3 261.0 L1156.0 246.8 L1159.3 233.7 L1163.5 242.1 L1166.0 240.9 L1170.2 246.8 L1173.5 248.1 L1176.9 242.6 L1180.2 231.7 L1183.5 220.9 L1186.0 219.2 L1189.9 203.0 L1192.7 204.2 L1196.9 208.4 L1200.2 197.5 L1203.6 189.2 L1207.7 190.0 L1211.9 186.7 L1216.1 182.5 L1219.9 184.2 L1223.6 190.9 L1226.9 191.7 L1231.1 196.4 L1236.9 198.4 L1240.3 189.7 L1244.4 195.0 L1247.8 199.7 L1251.1 201.7 L1255.3 199.2 L1260.3 197.5 L1264.5 198.7 L1267.0 187.5 L1271.1 189.7 L1277.0 191.7 L1281.2 199.2 L1286.0 202.0 L1286.7 203.0 L1290.9 211.4 L1294.2 215.4 L1297.5 216.7 L1300.9 209.7 L1305.0 210.4 L1308.4 211.4 L1310.9 206.7 L1314.2 208.0 L1317.6 204.7 L1322.6 210.1 L1327.6 211.7 L1330.9 201.7 L1334.3 195.4 L1338.1 204.2 L1341.8 202.0 L1345.1 203.4 L1349.3 205.9 L1353.4 205.5 L1358.4 205.9 L1361.0 208.4 L1365.1 217.1 L1368.5 219.7 L1372.6 224.2 L1376.8 225.1 L1379.3 228.4 L1382.1 235.9 L1385.1 232.6 L1388.5 236.8 L1392.7 240.9 L1396.0 244.3 L1398.5 236.8 L1402.7 238.1 L1408.5 235.9 L1412.7 233.4 L1416.0 222.6 L1419.4 211.4 L1422.7 207.5 L1425.2 205.9 L1428.5 210.1 L1432.7 218.7 L1436.9 215.4 L1439.4 214.2 L1442.7 200.9 L1446.1 184.7 L1449.4 183.4 L1452.7 193.4 L1456.1 200.0 L1459.4 216.7 L1463.6 220.9 L1466.9 223.7 L1470.3 223.7 L1472.8 221.4 L1476.9 223.7 L1480.3 227.6 L1482.3 221.4 L1486.1 227.6 L1490.3 231.7 L1493.6 245.1 L1497.0 256.8 L1500.3 270.1 L1503.5 274.8" fill="none" stroke="#e2953f" stroke-width="2.4"/>
<path d="M497.7 504.8 L498.5 502.6 L502.7 495.9 L506.9 494.3 L511.9 494.3 L516.9 496.8 L523.6 499.3 L533.6 500.9 L540.3 498.4 L546.9 498.4 L556.9 500.1 L573.6 500.1 L575.0 499.8 L578.4 495.1 L585.0 491.0 L588.4 483.4 L590.9 480.1 L594.2 484.3 L597.5 475.9 L600.9 456.7 L604.2 445.9 L608.4 458.4 L614.2 454.2 L618.4 464.3 L620.9 463.1 L625.1 470.9 L630.1 465.9 L634.3 463.4 L638.1 446.7 L641.8 459.2 L646.8 458.4 L651.8 472.6 L655.1 463.1 L659.3 470.1 L664.3 472.6 L668.5 469.3 L678.5 468.1 L688.5 468.8 L693.5 466.4 L698.5 463.1 L701.9 463.1 L706.9 466.8 L711.0 468.1 L716.9 472.6 L725.2 476.8 L731.9 483.4 L735.2 481.8 L743.6 488.1 L749.4 480.1 L756.9 480.9 L765.3 480.1 L771.9 477.6 L776.1 473.4 L779.5 464.3 L782.0 445.1 L784.5 435.9 L793.6 430.0 L811.7 423.4 L815.0 410.0 L820.0 386.7 L825.8 361.4 L829.2 378.4 L833.4 380.9 L836.7 393.4 L840.0 401.8 L843.4 403.1 L847.5 410.1 L850.9 405.9 L856.7 414.3 L860.1 409.3 L865.1 413.4 L869.2 416.8 L873.4 409.8 L877.6 415.9 L880.9 416.8 L886.8 428.5 L890.1 430.1 L894.3 436.8 L897.6 435.1 L900.9 437.6 L904.3 435.1 L907.7 445.9 L911.0 457.6 L914.3 450.9 L918.5 447.6 L921.8 442.6 L925.2 428.4 L926.8 423.5 L929.3 419.3 L931.8 416.8 L935.2 411.8 L938.5 410.9 L944.3 416.8 L947.7 416.4 L951.0 421.0 L953.5 421.0 L958.5 428.5 L964.4 436.8 L967.7 436.8 L971.9 433.5 L976.0 431.8 L980.2 427.6 L984.4 422.6 L987.7 421.5 L991.9 424.3 L996.9 423.5 L1004.4 421.8 L1008.6 423.5 L1014.4 423.5 L1020.3 430.1 L1024.4 430.1 L1030.3 436.8 L1033.3 443.4 L1038.3 448.4 L1041.7 456.8 L1045.0 454.3 L1053.4 455.9 L1058.4 458.4 L1066.7 458.4 L1073.4 457.6 L1075.9 460.9 L1083.4 465.1 L1088.4 465.9 L1094.3 455.1 L1098.4 450.9 L1101.8 455.9 L1111.8 459.3 L1118.4 453.4 L1125.1 455.1 L1136.8 457.6 L1146.8 458.4 L1158.5 461.8 L1162.7 455.9 L1168.5 457.6 L1178.5 458.4 L1186.9 459.8 L1191.9 465.9 L1196.9 465.9 L1205.2 469.3 L1215.2 471.5 L1219.4 470.1 L1223.6 465.9 L1233.6 465.4 L1241.1 468.4 L1249.5 465.9 L1255.3 467.6 L1263.6 468.4 L1267.8 471.5 L1273.7 470.1 L1278.7 471.0 L1286.0 468.4 L1286.7 468.4 L1291.7 461.7 L1296.7 457.6 L1303.4 460.9 L1310.1 466.8 L1316.7 467.6 L1323.4 461.7 L1327.6 460.1 L1336.8 466.8 L1345.1 460.9 L1353.4 460.1 L1368.5 459.7 L1373.5 449.2 L1378.5 447.6 L1382.6 445.1 L1385.1 449.2 L1387.7 445.9 L1391.8 448.4 L1403.5 450.9 L1413.5 450.9 L1420.2 453.7 L1428.5 450.1 L1436.9 450.1 L1443.6 454.2 L1446.1 455.1 L1447.7 448.4 L1451.9 441.7 L1455.2 440.1 L1458.6 430.0 L1463.6 435.9 L1466.1 435.0 L1469.4 443.4 L1475.3 450.1 L1478.6 447.6 L1483.6 451.7 L1488.6 454.2 L1492.8 448.4 L1496.1 449.2 L1500.3 445.1 L1503.5 437.5 L1503.5 505.0 L497.7 505.0 Z" fill="#3c3c6e" fill-opacity="0.14" stroke="none"/>
<g clip-path="url(#plotclip)">
<path d="M497.7 504.8 L498.5 502.6 L502.7 495.9 L506.9 494.3 L511.9 494.3 L516.9 496.8 L523.6 499.3 L533.6 500.9 L540.3 498.4 L546.9 498.4 L556.9 500.1 L573.6 500.1 L575.0 499.8 L578.4 495.1 L585.0 491.0 L588.4 483.4 L590.9 480.1 L594.2 484.3 L597.5 475.9 L600.9 456.7 L604.2 445.9 L608.4 458.4 L614.2 454.2 L618.4 464.3 L620.9 463.1 L625.1 470.9 L630.1 465.9 L634.3 463.4 L638.1 446.7 L641.8 459.2 L646.8 458.4 L651.8 472.6 L655.1 463.1 L659.3 470.1 L664.3 472.6 L668.5 469.3 L678.5 468.1 L688.5 468.8 L693.5 466.4 L698.5 463.1 L701.9 463.1 L706.9 466.8 L711.0 468.1 L716.9 472.6 L725.2 476.8 L731.9 483.4 L735.2 481.8 L743.6 488.1 L749.4 480.1 L756.9 480.9 L765.3 480.1 L771.9 477.6 L776.1 473.4 L779.5 464.3 L782.0 445.1 L784.5 435.9 L793.6 430.0 L811.7 423.4 L815.0 410.0 L820.0 386.7 L825.8 361.4 L829.2 378.4 L833.4 380.9 L836.7 393.4 L840.0 401.8 L843.4 403.1 L847.5 410.1 L850.9 405.9 L856.7 414.3 L860.1 409.3 L865.1 413.4 L869.2 416.8 L873.4 409.8 L877.6 415.9 L880.9 416.8 L886.8 428.5 L890.1 430.1 L894.3 436.8 L897.6 435.1 L900.9 437.6 L904.3 435.1 L907.7 445.9 L911.0 457.6 L914.3 450.9 L918.5 447.6 L921.8 442.6 L925.2 428.4 L926.8 423.5 L929.3 419.3 L931.8 416.8 L935.2 411.8 L938.5 410.9 L944.3 416.8 L947.7 416.4 L951.0 421.0 L953.5 421.0 L958.5 428.5 L964.4 436.8 L967.7 436.8 L971.9 433.5 L976.0 431.8 L980.2 427.6 L984.4 422.6 L987.7 421.5 L991.9 424.3 L996.9 423.5 L1004.4 421.8 L1008.6 423.5 L1014.4 423.5 L1020.3 430.1 L1024.4 430.1 L1030.3 436.8 L1033.3 443.4 L1038.3 448.4 L1041.7 456.8 L1045.0 454.3 L1053.4 455.9 L1058.4 458.4 L1066.7 458.4 L1073.4 457.6 L1075.9 460.9 L1083.4 465.1 L1088.4 465.9 L1094.3 455.1 L1098.4 450.9 L1101.8 455.9 L1111.8 459.3 L1118.4 453.4 L1125.1 455.1 L1136.8 457.6 L1146.8 458.4 L1158.5 461.8 L1162.7 455.9 L1168.5 457.6 L1178.5 458.4 L1186.9 459.8 L1191.9 465.9 L1196.9 465.9 L1205.2 469.3 L1215.2 471.5 L1219.4 470.1 L1223.6 465.9 L1233.6 465.4 L1241.1 468.4 L1249.5 465.9 L1255.3 467.6 L1263.6 468.4 L1267.8 471.5 L1273.7 470.1 L1278.7 471.0 L1286.0 468.4 L1286.7 468.4 L1291.7 461.7 L1296.7 457.6 L1303.4 460.9 L1310.1 466.8 L1316.7 467.6 L1323.4 461.7 L1327.6 460.1 L1336.8 466.8 L1345.1 460.9 L1353.4 460.1 L1368.5 459.7 L1373.5 449.2 L1378.5 447.6 L1382.6 445.1 L1385.1 449.2 L1387.7 445.9 L1391.8 448.4 L1403.5 450.9 L1413.5 450.9 L1420.2 453.7 L1428.5 450.1 L1436.9 450.1 L1443.6 454.2 L1446.1 455.1 L1447.7 448.4 L1451.9 441.7 L1455.2 440.1 L1458.6 430.0 L1463.6 435.9 L1466.1 435.0 L1469.4 443.4 L1475.3 450.1 L1478.6 447.6 L1483.6 451.7 L1488.6 454.2 L1492.8 448.4 L1496.1 449.2 L1500.3 445.1 L1503.5 437.5" transform="translate(1 1)" fill="none" stroke="#000000" stroke-opacity="0.035" stroke-width="5"/>
<path d="M497.7 504.8 L498.5 502.6 L502.7 495.9 L506.9 494.3 L511.9 494.3 L516.9 496.8 L523.6 499.3 L533.6 500.9 L540.3 498.4 L546.9 498.4 L556.9 500.1 L573.6 500.1 L575.0 499.8 L578.4 495.1 L585.0 491.0 L588.4 483.4 L590.9 480.1 L594.2 484.3 L597.5 475.9 L600.9 456.7 L604.2 445.9 L608.4 458.4 L614.2 454.2 L618.4 464.3 L620.9 463.1 L625.1 470.9 L630.1 465.9 L634.3 463.4 L638.1 446.7 L641.8 459.2 L646.8 458.4 L651.8 472.6 L655.1 463.1 L659.3 470.1 L664.3 472.6 L668.5 469.3 L678.5 468.1 L688.5 468.8 L693.5 466.4 L698.5 463.1 L701.9 463.1 L706.9 466.8 L711.0 468.1 L716.9 472.6 L725.2 476.8 L731.9 483.4 L735.2 481.8 L743.6 488.1 L749.4 480.1 L756.9 480.9 L765.3 480.1 L771.9 477.6 L776.1 473.4 L779.5 464.3 L782.0 445.1 L784.5 435.9 L793.6 430.0 L811.7 423.4 L815.0 410.0 L820.0 386.7 L825.8 361.4 L829.2 378.4 L833.4 380.9 L836.7 393.4 L840.0 401.8 L843.4 403.1 L847.5 410.1 L850.9 405.9 L856.7 414.3 L860.1 409.3 L865.1 413.4 L869.2 416.8 L873.4 409.8 L877.6 415.9 L880.9 416.8 L886.8 428.5 L890.1 430.1 L894.3 436.8 L897.6 435.1 L900.9 437.6 L904.3 435.1 L907.7 445.9 L911.0 457.6 L914.3 450.9 L918.5 447.6 L921.8 442.6 L925.2 428.4 L926.8 423.5 L929.3 419.3 L931.8 416.8 L935.2 411.8 L938.5 410.9 L944.3 416.8 L947.7 416.4 L951.0 421.0 L953.5 421.0 L958.5 428.5 L964.4 436.8 L967.7 436.8 L971.9 433.5 L976.0 431.8 L980.2 427.6 L984.4 422.6 L987.7 421.5 L991.9 424.3 L996.9 423.5 L1004.4 421.8 L1008.6 423.5 L1014.4 423.5 L1020.3 430.1 L1024.4 430.1 L1030.3 436.8 L1033.3 443.4 L1038.3 448.4 L1041.7 456.8 L1045.0 454.3 L1053.4 455.9 L1058.4 458.4 L1066.7 458.4 L1073.4 457.6 L1075.9 460.9 L1083.4 465.1 L1088.4 465.9 L1094.3 455.1 L1098.4 450.9 L1101.8 455.9 L1111.8 459.3 L1118.4 453.4 L1125.1 455.1 L1136.8 457.6 L1146.8 458.4 L1158.5 461.8 L1162.7 455.9 L1168.5 457.6 L1178.5 458.4 L1186.9 459.8 L1191.9 465.9 L1196.9 465.9 L1205.2 469.3 L1215.2 471.5 L1219.4 470.1 L1223.6 465.9 L1233.6 465.4 L1241.1 468.4 L1249.5 465.9 L1255.3 467.6 L1263.6 468.4 L1267.8 471.5 L1273.7 470.1 L1278.7 471.0 L1286.0 468.4 L1286.7 468.4 L1291.7 461.7 L1296.7 457.6 L1303.4 460.9 L1310.1 466.8 L1316.7 467.6 L1323.4 461.7 L1327.6 460.1 L1336.8 466.8 L1345.1 460.9 L1353.4 460.1 L1368.5 459.7 L1373.5 449.2 L1378.5 447.6 L1382.6 445.1 L1385.1 449.2 L1387.7 445.9 L1391.8 448.4 L1403.5 450.9 L1413.5 450.9 L1420.2 453.7 L1428.5 450.1 L1436.9 450.1 L1443.6 454.2 L1446.1 455.1 L1447.7 448.4 L1451.9 441.7 L1455.2 440.1 L1458.6 430.0 L1463.6 435.9 L1466.1 435.0 L1469.4 443.4 L1475.3 450.1 L1478.6 447.6 L1483.6 451.7 L1488.6 454.2 L1492.8 448.4 L1496.1 449.2 L1500.3 445.1 L1503.5 437.5" transform="translate(1 1)" fill="none" stroke="#000000" stroke-opacity="0.07" stroke-width="3"/>
<path d="M497.7 504.8 L498.5 502.6 L502.7 495.9 L506.9 494.3 L511.9 494.3 L516.9 496.8 L523.6 499.3 L533.6 500.9 L540.3 498.4 L546.9 498.4 L556.9 500.1 L573.6 500.1 L575.0 499.8 L578.4 495.1 L585.0 491.0 L588.4 483.4 L590.9 480.1 L594.2 484.3 L597.5 475.9 L600.9 456.7 L604.2 445.9 L608.4 458.4 L614.2 454.2 L618.4 464.3 L620.9 463.1 L625.1 470.9 L630.1 465.9 L634.3 463.4 L638.1 446.7 L641.8 459.2 L646.8 458.4 L651.8 472.6 L655.1 463.1 L659.3 470.1 L664.3 472.6 L668.5 469.3 L678.5 468.1 L688.5 468.8 L693.5 466.4 L698.5 463.1 L701.9 463.1 L706.9 466.8 L711.0 468.1 L716.9 472.6 L725.2 476.8 L731.9 483.4 L735.2 481.8 L743.6 488.1 L749.4 480.1 L756.9 480.9 L765.3 480.1 L771.9 477.6 L776.1 473.4 L779.5 464.3 L782.0 445.1 L784.5 435.9 L793.6 430.0 L811.7 423.4 L815.0 410.0 L820.0 386.7 L825.8 361.4 L829.2 378.4 L833.4 380.9 L836.7 393.4 L840.0 401.8 L843.4 403.1 L847.5 410.1 L850.9 405.9 L856.7 414.3 L860.1 409.3 L865.1 413.4 L869.2 416.8 L873.4 409.8 L877.6 415.9 L880.9 416.8 L886.8 428.5 L890.1 430.1 L894.3 436.8 L897.6 435.1 L900.9 437.6 L904.3 435.1 L907.7 445.9 L911.0 457.6 L914.3 450.9 L918.5 447.6 L921.8 442.6 L925.2 428.4 L926.8 423.5 L929.3 419.3 L931.8 416.8 L935.2 411.8 L938.5 410.9 L944.3 416.8 L947.7 416.4 L951.0 421.0 L953.5 421.0 L958.5 428.5 L964.4 436.8 L967.7 436.8 L971.9 433.5 L976.0 431.8 L980.2 427.6 L984.4 422.6 L987.7 421.5 L991.9 424.3 L996.9 423.5 L1004.4 421.8 L1008.6 423.5 L1014.4 423.5 L1020.3 430.1 L1024.4 430.1 L1030.3 436.8 L1033.3 443.4 L1038.3 448.4 L1041.7 456.8 L1045.0 454.3 L1053.4 455.9 L1058.4 458.4 L1066.7 458.4 L1073.4 457.6 L1075.9 460.9 L1083.4 465.1 L1088.4 465.9 L1094.3 455.1 L1098.4 450.9 L1101.8 455.9 L1111.8 459.3 L1118.4 453.4 L1125.1 455.1 L1136.8 457.6 L1146.8 458.4 L1158.5 461.8 L1162.7 455.9 L1168.5 457.6 L1178.5 458.4 L1186.9 459.8 L1191.9 465.9 L1196.9 465.9 L1205.2 469.3 L1215.2 471.5 L1219.4 470.1 L1223.6 465.9 L1233.6 465.4 L1241.1 468.4 L1249.5 465.9 L1255.3 467.6 L1263.6 468.4 L1267.8 471.5 L1273.7 470.1 L1278.7 471.0 L1286.0 468.4 L1286.7 468.4 L1291.7 461.7 L1296.7 457.6 L1303.4 460.9 L1310.1 466.8 L1316.7 467.6 L1323.4 461.7 L1327.6 460.1 L1336.8 466.8 L1345.1 460.9 L1353.4 460.1 L1368.5 459.7 L1373.5 449.2 L1378.5 447.6 L1382.6 445.1 L1385.1 449.2 L1387.7 445.9 L1391.8 448.4 L1403.5 450.9 L1413.5 450.9 L1420.2 453.7 L1428.5 450.1 L1436.9 450.1 L1443.6 454.2 L1446.1 455.1 L1447.7 448.4 L1451.9 441.7 L1455.2 440.1 L1458.6 430.0 L1463.6 435.9 L1466.1 435.0 L1469.4 443.4 L1475.3 450.1 L1478.6 447.6 L1483.6 451.7 L1488.6 454.2 L1492.8 448.4 L1496.1 449.2 L1500.3 445.1 L1503.5 437.5" transform="translate(1 1)" fill="none" stroke="#000000" stroke-opacity="0.11" stroke-width="1"/>
</g>
<path d="M497.7 504.8 L498.5 502.6 L502.7 495.9 L506.9 494.3 L511.9 494.3 L516.9 496.8 L523.6 499.3 L533.6 500.9 L540.3 498.4 L546.9 498.4 L556.9 500.1 L573.6 500.1 L575.0 499.8 L578.4 495.1 L585.0 491.0 L588.4 483.4 L590.9 480.1 L594.2 484.3 L597.5 475.9 L600.9 456.7 L604.2 445.9 L608.4 458.4 L614.2 454.2 L618.4 464.3 L620.9 463.1 L625.1 470.9 L630.1 465.9 L634.3 463.4 L638.1 446.7 L641.8 459.2 L646.8 458.4 L651.8 472.6 L655.1 463.1 L659.3 470.1 L664.3 472.6 L668.5 469.3 L678.5 468.1 L688.5 468.8 L693.5 466.4 L698.5 463.1 L701.9 463.1 L706.9 466.8 L711.0 468.1 L716.9 472.6 L725.2 476.8 L731.9 483.4 L735.2 481.8 L743.6 488.1 L749.4 480.1 L756.9 480.9 L765.3 480.1 L771.9 477.6 L776.1 473.4 L779.5 464.3 L782.0 445.1 L784.5 435.9 L793.6 430.0 L811.7 423.4 L815.0 410.0 L820.0 386.7 L825.8 361.4 L829.2 378.4 L833.4 380.9 L836.7 393.4 L840.0 401.8 L843.4 403.1 L847.5 410.1 L850.9 405.9 L856.7 414.3 L860.1 409.3 L865.1 413.4 L869.2 416.8 L873.4 409.8 L877.6 415.9 L880.9 416.8 L886.8 428.5 L890.1 430.1 L894.3 436.8 L897.6 435.1 L900.9 437.6 L904.3 435.1 L907.7 445.9 L911.0 457.6 L914.3 450.9 L918.5 447.6 L921.8 442.6 L925.2 428.4 L926.8 423.5 L929.3 419.3 L931.8 416.8 L935.2 411.8 L938.5 410.9 L944.3 416.8 L947.7 416.4 L951.0 421.0 L953.5 421.0 L958.5 428.5 L964.4 436.8 L967.7 436.8 L971.9 433.5 L976.0 431.8 L980.2 427.6 L984.4 422.6 L987.7 421.5 L991.9 424.3 L996.9 423.5 L1004.4 421.8 L1008.6 423.5 L1014.4 423.5 L1020.3 430.1 L1024.4 430.1 L1030.3 436.8 L1033.3 443.4 L1038.3 448.4 L1041.7 456.8 L1045.0 454.3 L1053.4 455.9 L1058.4 458.4 L1066.7 458.4 L1073.4 457.6 L1075.9 460.9 L1083.4 465.1 L1088.4 465.9 L1094.3 455.1 L1098.4 450.9 L1101.8 455.9 L1111.8 459.3 L1118.4 453.4 L1125.1 455.1 L1136.8 457.6 L1146.8 458.4 L1158.5 461.8 L1162.7 455.9 L1168.5 457.6 L1178.5 458.4 L1186.9 459.8 L1191.9 465.9 L1196.9 465.9 L1205.2 469.3 L1215.2 471.5 L1219.4 470.1 L1223.6 465.9 L1233.6 465.4 L1241.1 468.4 L1249.5 465.9 L1255.3 467.6 L1263.6 468.4 L1267.8 471.5 L1273.7 470.1 L1278.7 471.0 L1286.0 468.4 L1286.7 468.4 L1291.7 461.7 L1296.7 457.6 L1303.4 460.9 L1310.1 466.8 L1316.7 467.6 L1323.4 461.7 L1327.6 460.1 L1336.8 466.8 L1345.1 460.9 L1353.4 460.1 L1368.5 459.7 L1373.5 449.2 L1378.5 447.6 L1382.6 445.1 L1385.1 449.2 L1387.7 445.9 L1391.8 448.4 L1403.5 450.9 L1413.5 450.9 L1420.2 453.7 L1428.5 450.1 L1436.9 450.1 L1443.6 454.2 L1446.1 455.1 L1447.7 448.4 L1451.9 441.7 L1455.2 440.1 L1458.6 430.0 L1463.6 435.9 L1466.1 435.0 L1469.4 443.4 L1475.3 450.1 L1478.6 447.6 L1483.6 451.7 L1488.6 454.2 L1492.8 448.4 L1496.1 449.2 L1500.3 445.1 L1503.5 437.5" fill="none" stroke="#45415b" stroke-width="1.9"/>
<path d="M865.0 505.0 L1000.0 504.6 L1100.0 503.6 L1182.0 502.2 L1300.0 502.8 L1447.0 501.2 L1470.0 498.5 L1482.0 495.0 L1490.3 491.0 L1495.3 487.6 L1503.5 486.8 L1503.5 505.0 L865.0 505.0 Z" fill="#f3ba2f" fill-opacity="0.19" stroke="none"/>
<g clip-path="url(#plotclip)">
<path d="M865.0 505.0 L1000.0 504.6 L1100.0 503.6 L1182.0 502.2 L1300.0 502.8 L1447.0 501.2 L1470.0 498.5 L1482.0 495.0 L1490.3 491.0 L1495.3 487.6 L1503.5 486.8" transform="translate(1 1)" fill="none" stroke="#000000" stroke-opacity="0.035" stroke-width="5"/>
<path d="M865.0 505.0 L1000.0 504.6 L1100.0 503.6 L1182.0 502.2 L1300.0 502.8 L1447.0 501.2 L1470.0 498.5 L1482.0 495.0 L1490.3 491.0 L1495.3 487.6 L1503.5 486.8" transform="translate(1 1)" fill="none" stroke="#000000" stroke-opacity="0.07" stroke-width="3"/>
<path d="M865.0 505.0 L1000.0 504.6 L1100.0 503.6 L1182.0 502.2 L1300.0 502.8 L1447.0 501.2 L1470.0 498.5 L1482.0 495.0 L1490.3 491.0 L1495.3 487.6 L1503.5 486.8" transform="translate(1 1)" fill="none" stroke="#000000" stroke-opacity="0.11" stroke-width="1"/>
</g>
<path d="M865.0 505.0 L1000.0 504.6 L1100.0 503.6 L1182.0 502.2 L1300.0 502.8 L1447.0 501.2 L1470.0 498.5 L1482.0 495.0 L1490.3 491.0 L1495.3 487.6 L1503.5 486.8" fill="none" stroke="#edb945" stroke-width="1.8"/>
<path d="M143.3 505.1 L144.7 497.4 L147.0 489.6 L149.7 492.8 L153.3 491.5 L158.8 491.0 L161.5 491.5 L165.2 489.6 L167.9 489.6 L170.7 484.6 L174.3 479.2 L178.9 486.5 L182.5 491.5 L185.2 495.1 L189.8 494.7 L194.3 496.5 L198.0 499.7 L199.8 497.4 L205.7 492.8 L208.9 494.7 L213.5 495.4 L218.0 496.0 L222.6 497.9 L227.2 498.8 L235.0 498.8 L245.2 498.8 L261.9 500.1 L295.3 501.8 L328.6 502.6 L333.6 502.6 L335.3 496.8 L345.3 494.3 L350.0 492.6 L360.0 493.4 L373.4 491.8 L380.1 476.7 L385.1 463.4 L389.2 441.7 L393.4 444.2 L398.4 446.7 L403.1 444.2 L406.8 450.9 L410.1 452.5 L413.4 449.7 L417.6 455.0 L420.9 457.5 L426.8 472.6 L431.0 470.1 L440.1 475.1 L443.5 472.1 L450.1 473.4 L455.1 475.9 L461.8 481.7 L466.0 473.4 L471.8 475.1 L476.0 470.1 L479.8 465.9 L483.5 471.7 L486.9 480.1 L491.0 479.2 L495.2 480.9 L500.2 477.6 L504.4 478.4 L510.2 475.1 L514.4 476.7 L516.9 473.4 L521.9 479.2 L526.9 485.1 L533.6 488.4 L543.6 493.4 L556.9 493.4 L561.1 486.8 L565.3 491.8 L570.3 492.1 L577.0 493.4 L583.4 491.8 L593.4 490.1 L605.1 488.4 L613.4 491.0 L618.4 492.6 L623.4 491.5 L631.8 493.5 L640.1 496.0 L651.8 496.8 L668.5 497.1 L680.2 496.8 L693.5 496.0 L698.5 494.3 L706.9 494.8 L711.9 493.5 L716.9 495.1 L726.9 496.0 L743.6 499.3 L750.2 498.5 L760.3 499.8 L773.6 501.0 L783.6 500.1 L787.0 490.1 L790.0 467.6 L792.8 481.8 L800.3 486.8 L803.7 476.8 L808.7 450.1 L812.0 425.0 L815.0 437.5 L817.5 448.4 L820.0 448.4 L822.5 455.1 L825.9 457.6 L830.1 455.1 L835.1 461.7 L841.7 470.1 L848.4 476.8 L853.4 483.4 L856.8 486.4 L861.8 481.8 L867.6 479.3 L875.1 480.9 L880.1 472.6 L883.5 478.4 L888.5 485.1 L893.5 486.8 L900.1 488.4 L906.8 492.6 L911.8 496.0 L915.2 480.1 L918.5 455.1 L921.0 440.1 L923.5 433.4 L926.0 440.1 L928.5 458.4 L931.9 462.6 L937.7 468.1 L941.0 460.1 L946.9 465.1 L953.5 466.8 L960.2 468.4 L966.9 471.8 L970.2 470.1 L974.4 465.1 L978.6 469.3 L987.8 472.6 L995.3 469.3 L1001.9 470.1 L1008.6 472.6 L1015.3 473.4 L1022.0 477.6 L1025.3 475.1 L1028.6 479.3 L1031.1 476.8 L1037.0 478.1 L1038.3 478.5 L1045.9 480.1 L1049.2 458.4 L1053.4 458.4 L1059.2 468.4 L1063.4 465.1 L1070.1 464.3 L1075.9 453.4 L1079.2 451.8 L1083.4 454.3 L1089.2 452.6 L1096.8 451.8 L1103.4 455.9 L1113.4 457.6 L1123.5 460.1 L1136.8 463.4 L1146.8 469.3 L1153.5 472.6 L1160.2 476.8 L1163.5 475.1 L1166.8 476.0 L1171.9 474.3 L1178.5 476.8 L1186.9 481.8 L1190.2 483.5 L1195.2 482.6 L1203.6 485.1 L1218.6 485.5 L1228.6 481.8 L1236.9 479.8 L1241.1 481.8 L1250.3 482.6 L1263.6 483.1 L1268.6 485.1 L1270.0 485.9 L1286.7 486.4 L1295.0 485.1 L1303.4 486.8 L1308.4 485.9 L1320.1 486.8 L1331.7 487.6 L1341.8 491.0 L1353.4 490.1 L1366.8 491.0 L1373.5 487.6 L1381.8 489.3 L1391.8 490.1 L1403.5 491.0 L1411.9 492.6 L1420.2 494.3 L1426.9 492.6 L1430.2 483.4 L1433.5 481.8 L1436.9 484.3 L1441.9 490.1 L1446.9 499.3 L1453.6 498.5 L1461.9 497.6 L1470.3 498.5 L1483.6 497.6 L1493.6 495.1 L1503.5 495.1 L1503.5 505.0 L143.3 505.0 Z" fill="#1fa3c8" fill-opacity="0.18" stroke="none"/>
<g clip-path="url(#plotclip)">
<path d="M143.3 505.1 L144.7 497.4 L147.0 489.6 L149.7 492.8 L153.3 491.5 L158.8 491.0 L161.5 491.5 L165.2 489.6 L167.9 489.6 L170.7 484.6 L174.3 479.2 L178.9 486.5 L182.5 491.5 L185.2 495.1 L189.8 494.7 L194.3 496.5 L198.0 499.7 L199.8 497.4 L205.7 492.8 L208.9 494.7 L213.5 495.4 L218.0 496.0 L222.6 497.9 L227.2 498.8 L235.0 498.8 L245.2 498.8 L261.9 500.1 L295.3 501.8 L328.6 502.6 L333.6 502.6 L335.3 496.8 L345.3 494.3 L350.0 492.6 L360.0 493.4 L373.4 491.8 L380.1 476.7 L385.1 463.4 L389.2 441.7 L393.4 444.2 L398.4 446.7 L403.1 444.2 L406.8 450.9 L410.1 452.5 L413.4 449.7 L417.6 455.0 L420.9 457.5 L426.8 472.6 L431.0 470.1 L440.1 475.1 L443.5 472.1 L450.1 473.4 L455.1 475.9 L461.8 481.7 L466.0 473.4 L471.8 475.1 L476.0 470.1 L479.8 465.9 L483.5 471.7 L486.9 480.1 L491.0 479.2 L495.2 480.9 L500.2 477.6 L504.4 478.4 L510.2 475.1 L514.4 476.7 L516.9 473.4 L521.9 479.2 L526.9 485.1 L533.6 488.4 L543.6 493.4 L556.9 493.4 L561.1 486.8 L565.3 491.8 L570.3 492.1 L577.0 493.4 L583.4 491.8 L593.4 490.1 L605.1 488.4 L613.4 491.0 L618.4 492.6 L623.4 491.5 L631.8 493.5 L640.1 496.0 L651.8 496.8 L668.5 497.1 L680.2 496.8 L693.5 496.0 L698.5 494.3 L706.9 494.8 L711.9 493.5 L716.9 495.1 L726.9 496.0 L743.6 499.3 L750.2 498.5 L760.3 499.8 L773.6 501.0 L783.6 500.1 L787.0 490.1 L790.0 467.6 L792.8 481.8 L800.3 486.8 L803.7 476.8 L808.7 450.1 L812.0 425.0 L815.0 437.5 L817.5 448.4 L820.0 448.4 L822.5 455.1 L825.9 457.6 L830.1 455.1 L835.1 461.7 L841.7 470.1 L848.4 476.8 L853.4 483.4 L856.8 486.4 L861.8 481.8 L867.6 479.3 L875.1 480.9 L880.1 472.6 L883.5 478.4 L888.5 485.1 L893.5 486.8 L900.1 488.4 L906.8 492.6 L911.8 496.0 L915.2 480.1 L918.5 455.1 L921.0 440.1 L923.5 433.4 L926.0 440.1 L928.5 458.4 L931.9 462.6 L937.7 468.1 L941.0 460.1 L946.9 465.1 L953.5 466.8 L960.2 468.4 L966.9 471.8 L970.2 470.1 L974.4 465.1 L978.6 469.3 L987.8 472.6 L995.3 469.3 L1001.9 470.1 L1008.6 472.6 L1015.3 473.4 L1022.0 477.6 L1025.3 475.1 L1028.6 479.3 L1031.1 476.8 L1037.0 478.1 L1038.3 478.5 L1045.9 480.1 L1049.2 458.4 L1053.4 458.4 L1059.2 468.4 L1063.4 465.1 L1070.1 464.3 L1075.9 453.4 L1079.2 451.8 L1083.4 454.3 L1089.2 452.6 L1096.8 451.8 L1103.4 455.9 L1113.4 457.6 L1123.5 460.1 L1136.8 463.4 L1146.8 469.3 L1153.5 472.6 L1160.2 476.8 L1163.5 475.1 L1166.8 476.0 L1171.9 474.3 L1178.5 476.8 L1186.9 481.8 L1190.2 483.5 L1195.2 482.6 L1203.6 485.1 L1218.6 485.5 L1228.6 481.8 L1236.9 479.8 L1241.1 481.8 L1250.3 482.6 L1263.6 483.1 L1268.6 485.1 L1270.0 485.9 L1286.7 486.4 L1295.0 485.1 L1303.4 486.8 L1308.4 485.9 L1320.1 486.8 L1331.7 487.6 L1341.8 491.0 L1353.4 490.1 L1366.8 491.0 L1373.5 487.6 L1381.8 489.3 L1391.8 490.1 L1403.5 491.0 L1411.9 492.6 L1420.2 494.3 L1426.9 492.6 L1430.2 483.4 L1433.5 481.8 L1436.9 484.3 L1441.9 490.1 L1446.9 499.3 L1453.6 498.5 L1461.9 497.6 L1470.3 498.5 L1483.6 497.6 L1493.6 495.1 L1503.5 495.1" transform="translate(1 1)" fill="none" stroke="#000000" stroke-opacity="0.035" stroke-width="5"/>
<path d="M143.3 505.1 L144.7 497.4 L147.0 489.6 L149.7 492.8 L153.3 491.5 L158.8 491.0 L161.5 491.5 L165.2 489.6 L167.9 489.6 L170.7 484.6 L174.3 479.2 L178.9 486.5 L182.5 491.5 L185.2 495.1 L189.8 494.7 L194.3 496.5 L198.0 499.7 L199.8 497.4 L205.7 492.8 L208.9 494.7 L213.5 495.4 L218.0 496.0 L222.6 497.9 L227.2 498.8 L235.0 498.8 L245.2 498.8 L261.9 500.1 L295.3 501.8 L328.6 502.6 L333.6 502.6 L335.3 496.8 L345.3 494.3 L350.0 492.6 L360.0 493.4 L373.4 491.8 L380.1 476.7 L385.1 463.4 L389.2 441.7 L393.4 444.2 L398.4 446.7 L403.1 444.2 L406.8 450.9 L410.1 452.5 L413.4 449.7 L417.6 455.0 L420.9 457.5 L426.8 472.6 L431.0 470.1 L440.1 475.1 L443.5 472.1 L450.1 473.4 L455.1 475.9 L461.8 481.7 L466.0 473.4 L471.8 475.1 L476.0 470.1 L479.8 465.9 L483.5 471.7 L486.9 480.1 L491.0 479.2 L495.2 480.9 L500.2 477.6 L504.4 478.4 L510.2 475.1 L514.4 476.7 L516.9 473.4 L521.9 479.2 L526.9 485.1 L533.6 488.4 L543.6 493.4 L556.9 493.4 L561.1 486.8 L565.3 491.8 L570.3 492.1 L577.0 493.4 L583.4 491.8 L593.4 490.1 L605.1 488.4 L613.4 491.0 L618.4 492.6 L623.4 491.5 L631.8 493.5 L640.1 496.0 L651.8 496.8 L668.5 497.1 L680.2 496.8 L693.5 496.0 L698.5 494.3 L706.9 494.8 L711.9 493.5 L716.9 495.1 L726.9 496.0 L743.6 499.3 L750.2 498.5 L760.3 499.8 L773.6 501.0 L783.6 500.1 L787.0 490.1 L790.0 467.6 L792.8 481.8 L800.3 486.8 L803.7 476.8 L808.7 450.1 L812.0 425.0 L815.0 437.5 L817.5 448.4 L820.0 448.4 L822.5 455.1 L825.9 457.6 L830.1 455.1 L835.1 461.7 L841.7 470.1 L848.4 476.8 L853.4 483.4 L856.8 486.4 L861.8 481.8 L867.6 479.3 L875.1 480.9 L880.1 472.6 L883.5 478.4 L888.5 485.1 L893.5 486.8 L900.1 488.4 L906.8 492.6 L911.8 496.0 L915.2 480.1 L918.5 455.1 L921.0 440.1 L923.5 433.4 L926.0 440.1 L928.5 458.4 L931.9 462.6 L937.7 468.1 L941.0 460.1 L946.9 465.1 L953.5 466.8 L960.2 468.4 L966.9 471.8 L970.2 470.1 L974.4 465.1 L978.6 469.3 L987.8 472.6 L995.3 469.3 L1001.9 470.1 L1008.6 472.6 L1015.3 473.4 L1022.0 477.6 L1025.3 475.1 L1028.6 479.3 L1031.1 476.8 L1037.0 478.1 L1038.3 478.5 L1045.9 480.1 L1049.2 458.4 L1053.4 458.4 L1059.2 468.4 L1063.4 465.1 L1070.1 464.3 L1075.9 453.4 L1079.2 451.8 L1083.4 454.3 L1089.2 452.6 L1096.8 451.8 L1103.4 455.9 L1113.4 457.6 L1123.5 460.1 L1136.8 463.4 L1146.8 469.3 L1153.5 472.6 L1160.2 476.8 L1163.5 475.1 L1166.8 476.0 L1171.9 474.3 L1178.5 476.8 L1186.9 481.8 L1190.2 483.5 L1195.2 482.6 L1203.6 485.1 L1218.6 485.5 L1228.6 481.8 L1236.9 479.8 L1241.1 481.8 L1250.3 482.6 L1263.6 483.1 L1268.6 485.1 L1270.0 485.9 L1286.7 486.4 L1295.0 485.1 L1303.4 486.8 L1308.4 485.9 L1320.1 486.8 L1331.7 487.6 L1341.8 491.0 L1353.4 490.1 L1366.8 491.0 L1373.5 487.6 L1381.8 489.3 L1391.8 490.1 L1403.5 491.0 L1411.9 492.6 L1420.2 494.3 L1426.9 492.6 L1430.2 483.4 L1433.5 481.8 L1436.9 484.3 L1441.9 490.1 L1446.9 499.3 L1453.6 498.5 L1461.9 497.6 L1470.3 498.5 L1483.6 497.6 L1493.6 495.1 L1503.5 495.1" transform="translate(1 1)" fill="none" stroke="#000000" stroke-opacity="0.07" stroke-width="3"/>
<path d="M143.3 505.1 L144.7 497.4 L147.0 489.6 L149.7 492.8 L153.3 491.5 L158.8 491.0 L161.5 491.5 L165.2 489.6 L167.9 489.6 L170.7 484.6 L174.3 479.2 L178.9 486.5 L182.5 491.5 L185.2 495.1 L189.8 494.7 L194.3 496.5 L198.0 499.7 L199.8 497.4 L205.7 492.8 L208.9 494.7 L213.5 495.4 L218.0 496.0 L222.6 497.9 L227.2 498.8 L235.0 498.8 L245.2 498.8 L261.9 500.1 L295.3 501.8 L328.6 502.6 L333.6 502.6 L335.3 496.8 L345.3 494.3 L350.0 492.6 L360.0 493.4 L373.4 491.8 L380.1 476.7 L385.1 463.4 L389.2 441.7 L393.4 444.2 L398.4 446.7 L403.1 444.2 L406.8 450.9 L410.1 452.5 L413.4 449.7 L417.6 455.0 L420.9 457.5 L426.8 472.6 L431.0 470.1 L440.1 475.1 L443.5 472.1 L450.1 473.4 L455.1 475.9 L461.8 481.7 L466.0 473.4 L471.8 475.1 L476.0 470.1 L479.8 465.9 L483.5 471.7 L486.9 480.1 L491.0 479.2 L495.2 480.9 L500.2 477.6 L504.4 478.4 L510.2 475.1 L514.4 476.7 L516.9 473.4 L521.9 479.2 L526.9 485.1 L533.6 488.4 L543.6 493.4 L556.9 493.4 L561.1 486.8 L565.3 491.8 L570.3 492.1 L577.0 493.4 L583.4 491.8 L593.4 490.1 L605.1 488.4 L613.4 491.0 L618.4 492.6 L623.4 491.5 L631.8 493.5 L640.1 496.0 L651.8 496.8 L668.5 497.1 L680.2 496.8 L693.5 496.0 L698.5 494.3 L706.9 494.8 L711.9 493.5 L716.9 495.1 L726.9 496.0 L743.6 499.3 L750.2 498.5 L760.3 499.8 L773.6 501.0 L783.6 500.1 L787.0 490.1 L790.0 467.6 L792.8 481.8 L800.3 486.8 L803.7 476.8 L808.7 450.1 L812.0 425.0 L815.0 437.5 L817.5 448.4 L820.0 448.4 L822.5 455.1 L825.9 457.6 L830.1 455.1 L835.1 461.7 L841.7 470.1 L848.4 476.8 L853.4 483.4 L856.8 486.4 L861.8 481.8 L867.6 479.3 L875.1 480.9 L880.1 472.6 L883.5 478.4 L888.5 485.1 L893.5 486.8 L900.1 488.4 L906.8 492.6 L911.8 496.0 L915.2 480.1 L918.5 455.1 L921.0 440.1 L923.5 433.4 L926.0 440.1 L928.5 458.4 L931.9 462.6 L937.7 468.1 L941.0 460.1 L946.9 465.1 L953.5 466.8 L960.2 468.4 L966.9 471.8 L970.2 470.1 L974.4 465.1 L978.6 469.3 L987.8 472.6 L995.3 469.3 L1001.9 470.1 L1008.6 472.6 L1015.3 473.4 L1022.0 477.6 L1025.3 475.1 L1028.6 479.3 L1031.1 476.8 L1037.0 478.1 L1038.3 478.5 L1045.9 480.1 L1049.2 458.4 L1053.4 458.4 L1059.2 468.4 L1063.4 465.1 L1070.1 464.3 L1075.9 453.4 L1079.2 451.8 L1083.4 454.3 L1089.2 452.6 L1096.8 451.8 L1103.4 455.9 L1113.4 457.6 L1123.5 460.1 L1136.8 463.4 L1146.8 469.3 L1153.5 472.6 L1160.2 476.8 L1163.5 475.1 L1166.8 476.0 L1171.9 474.3 L1178.5 476.8 L1186.9 481.8 L1190.2 483.5 L1195.2 482.6 L1203.6 485.1 L1218.6 485.5 L1228.6 481.8 L1236.9 479.8 L1241.1 481.8 L1250.3 482.6 L1263.6 483.1 L1268.6 485.1 L1270.0 485.9 L1286.7 486.4 L1295.0 485.1 L1303.4 486.8 L1308.4 485.9 L1320.1 486.8 L1331.7 487.6 L1341.8 491.0 L1353.4 490.1 L1366.8 491.0 L1373.5 487.6 L1381.8 489.3 L1391.8 490.1 L1403.5 491.0 L1411.9 492.6 L1420.2 494.3 L1426.9 492.6 L1430.2 483.4 L1433.5 481.8 L1436.9 484.3 L1441.9 490.1 L1446.9 499.3 L1453.6 498.5 L1461.9 497.6 L1470.3 498.5 L1483.6 497.6 L1493.6 495.1 L1503.5 495.1" transform="translate(1 1)" fill="none" stroke="#000000" stroke-opacity="0.11" stroke-width="1"/>
</g>
<path d="M143.3 505.1 L144.7 497.4 L147.0 489.6 L149.7 492.8 L153.3 491.5 L158.8 491.0 L161.5 491.5 L165.2 489.6 L167.9 489.6 L170.7 484.6 L174.3 479.2 L178.9 486.5 L182.5 491.5 L185.2 495.1 L189.8 494.7 L194.3 496.5 L198.0 499.7 L199.8 497.4 L205.7 492.8 L208.9 494.7 L213.5 495.4 L218.0 496.0 L222.6 497.9 L227.2 498.8 L235.0 498.8 L245.2 498.8 L261.9 500.1 L295.3 501.8 L328.6 502.6 L333.6 502.6 L335.3 496.8 L345.3 494.3 L350.0 492.6 L360.0 493.4 L373.4 491.8 L380.1 476.7 L385.1 463.4 L389.2 441.7 L393.4 444.2 L398.4 446.7 L403.1 444.2 L406.8 450.9 L410.1 452.5 L413.4 449.7 L417.6 455.0 L420.9 457.5 L426.8 472.6 L431.0 470.1 L440.1 475.1 L443.5 472.1 L450.1 473.4 L455.1 475.9 L461.8 481.7 L466.0 473.4 L471.8 475.1 L476.0 470.1 L479.8 465.9 L483.5 471.7 L486.9 480.1 L491.0 479.2 L495.2 480.9 L500.2 477.6 L504.4 478.4 L510.2 475.1 L514.4 476.7 L516.9 473.4 L521.9 479.2 L526.9 485.1 L533.6 488.4 L543.6 493.4 L556.9 493.4 L561.1 486.8 L565.3 491.8 L570.3 492.1 L577.0 493.4 L583.4 491.8 L593.4 490.1 L605.1 488.4 L613.4 491.0 L618.4 492.6 L623.4 491.5 L631.8 493.5 L640.1 496.0 L651.8 496.8 L668.5 497.1 L680.2 496.8 L693.5 496.0 L698.5 494.3 L706.9 494.8 L711.9 493.5 L716.9 495.1 L726.9 496.0 L743.6 499.3 L750.2 498.5 L760.3 499.8 L773.6 501.0 L783.6 500.1 L787.0 490.1 L790.0 467.6 L792.8 481.8 L800.3 486.8 L803.7 476.8 L808.7 450.1 L812.0 425.0 L815.0 437.5 L817.5 448.4 L820.0 448.4 L822.5 455.1 L825.9 457.6 L830.1 455.1 L835.1 461.7 L841.7 470.1 L848.4 476.8 L853.4 483.4 L856.8 486.4 L861.8 481.8 L867.6 479.3 L875.1 480.9 L880.1 472.6 L883.5 478.4 L888.5 485.1 L893.5 486.8 L900.1 488.4 L906.8 492.6 L911.8 496.0 L915.2 480.1 L918.5 455.1 L921.0 440.1 L923.5 433.4 L926.0 440.1 L928.5 458.4 L931.9 462.6 L937.7 468.1 L941.0 460.1 L946.9 465.1 L953.5 466.8 L960.2 468.4 L966.9 471.8 L970.2 470.1 L974.4 465.1 L978.6 469.3 L987.8 472.6 L995.3 469.3 L1001.9 470.1 L1008.6 472.6 L1015.3 473.4 L1022.0 477.6 L1025.3 475.1 L1028.6 479.3 L1031.1 476.8 L1037.0 478.1 L1038.3 478.5 L1045.9 480.1 L1049.2 458.4 L1053.4 458.4 L1059.2 468.4 L1063.4 465.1 L1070.1 464.3 L1075.9 453.4 L1079.2 451.8 L1083.4 454.3 L1089.2 452.6 L1096.8 451.8 L1103.4 455.9 L1113.4 457.6 L1123.5 460.1 L1136.8 463.4 L1146.8 469.3 L1153.5 472.6 L1160.2 476.8 L1163.5 475.1 L1166.8 476.0 L1171.9 474.3 L1178.5 476.8 L1186.9 481.8 L1190.2 483.5 L1195.2 482.6 L1203.6 485.1 L1218.6 485.5 L1228.6 481.8 L1236.9 479.8 L1241.1 481.8 L1250.3 482.6 L1263.6 483.1 L1268.6 485.1 L1270.0 485.9 L1286.7 486.4 L1295.0 485.1 L1303.4 486.8 L1308.4 485.9 L1320.1 486.8 L1331.7 487.6 L1341.8 491.0 L1353.4 490.1 L1366.8 491.0 L1373.5 487.6 L1381.8 489.3 L1391.8 490.1 L1403.5 491.0 L1411.9 492.6 L1420.2 494.3 L1426.9 492.6 L1430.2 483.4 L1433.5 481.8 L1436.9 484.3 L1441.9 490.1 L1446.9 499.3 L1453.6 498.5 L1461.9 497.6 L1470.3 498.5 L1483.6 497.6 L1493.6 495.1 L1503.5 495.1" fill="none" stroke="#3799b8" stroke-width="2.1"/>
<path d="M760.0 505.0 L1000.0 503.8 L1100.0 502.6 L1150.0 501.2 L1200.0 500.2 L1247.0 496.8 L1270.0 496.0 L1286.7 496.8 L1300.0 498.5 L1305.0 496.0 L1306.7 491.0 L1313.4 491.5 L1318.4 490.1 L1325.1 491.8 L1331.7 494.3 L1340.1 490.1 L1350.1 491.5 L1360.1 491.0 L1370.1 491.0 L1378.5 492.6 L1389.3 493.5 L1391.8 485.9 L1396.8 485.1 L1403.5 484.3 L1411.9 485.1 L1420.2 486.8 L1426.9 488.4 L1436.9 490.1 L1443.6 491.0 L1448.6 495.1 L1453.6 495.1 L1461.9 493.5 L1470.3 495.1 L1483.6 495.1 L1493.6 493.5 L1503.5 491.8 L1503.5 505.0 L760.0 505.0 Z" fill="#50af95" fill-opacity="0.19" stroke="none"/>
<g clip-path="url(#plotclip)">
<path d="M760.0 505.0 L1000.0 503.8 L1100.0 502.6 L1150.0 501.2 L1200.0 500.2 L1247.0 496.8 L1270.0 496.0 L1286.7 496.8 L1300.0 498.5 L1305.0 496.0 L1306.7 491.0 L1313.4 491.5 L1318.4 490.1 L1325.1 491.8 L1331.7 494.3 L1340.1 490.1 L1350.1 491.5 L1360.1 491.0 L1370.1 491.0 L1378.5 492.6 L1389.3 493.5 L1391.8 485.9 L1396.8 485.1 L1403.5 484.3 L1411.9 485.1 L1420.2 486.8 L1426.9 488.4 L1436.9 490.1 L1443.6 491.0 L1448.6 495.1 L1453.6 495.1 L1461.9 493.5 L1470.3 495.1 L1483.6 495.1 L1493.6 493.5 L1503.5 491.8" transform="translate(1 1)" fill="none" stroke="#000000" stroke-opacity="0.035" stroke-width="5"/>
<path d="M760.0 505.0 L1000.0 503.8 L1100.0 502.6 L1150.0 501.2 L1200.0 500.2 L1247.0 496.8 L1270.0 496.0 L1286.7 496.8 L1300.0 498.5 L1305.0 496.0 L1306.7 491.0 L1313.4 491.5 L1318.4 490.1 L1325.1 491.8 L1331.7 494.3 L1340.1 490.1 L1350.1 491.5 L1360.1 491.0 L1370.1 491.0 L1378.5 492.6 L1389.3 493.5 L1391.8 485.9 L1396.8 485.1 L1403.5 484.3 L1411.9 485.1 L1420.2 486.8 L1426.9 488.4 L1436.9 490.1 L1443.6 491.0 L1448.6 495.1 L1453.6 495.1 L1461.9 493.5 L1470.3 495.1 L1483.6 495.1 L1493.6 493.5 L1503.5 491.8" transform="translate(1 1)" fill="none" stroke="#000000" stroke-opacity="0.07" stroke-width="3"/>
<path d="M760.0 505.0 L1000.0 503.8 L1100.0 502.6 L1150.0 501.2 L1200.0 500.2 L1247.0 496.8 L1270.0 496.0 L1286.7 496.8 L1300.0 498.5 L1305.0 496.0 L1306.7 491.0 L1313.4 491.5 L1318.4 490.1 L1325.1 491.8 L1331.7 494.3 L1340.1 490.1 L1350.1 491.5 L1360.1 491.0 L1370.1 491.0 L1378.5 492.6 L1389.3 493.5 L1391.8 485.9 L1396.8 485.1 L1403.5 484.3 L1411.9 485.1 L1420.2 486.8 L1426.9 488.4 L1436.9 490.1 L1443.6 491.0 L1448.6 495.1 L1453.6 495.1 L1461.9 493.5 L1470.3 495.1 L1483.6 495.1 L1493.6 493.5 L1503.5 491.8" transform="translate(1 1)" fill="none" stroke="#000000" stroke-opacity="0.11" stroke-width="1"/>
</g>
<path d="M760.0 505.0 L1000.0 503.8 L1100.0 502.6 L1150.0 501.2 L1200.0 500.2 L1247.0 496.8 L1270.0 496.0 L1286.7 496.8 L1300.0 498.5 L1305.0 496.0 L1306.7 491.0 L1313.4 491.5 L1318.4 490.1 L1325.1 491.8 L1331.7 494.3 L1340.1 490.1 L1350.1 491.5 L1360.1 491.0 L1370.1 491.0 L1378.5 492.6 L1389.3 493.5 L1391.8 485.9 L1396.8 485.1 L1403.5 484.3 L1411.9 485.1 L1420.2 486.8 L1426.9 488.4 L1436.9 490.1 L1443.6 491.0 L1448.6 495.1 L1453.6 495.1 L1461.9 493.5 L1470.3 495.1 L1483.6 495.1 L1493.6 493.5 L1503.5 491.8" fill="none" stroke="#63ad9a" stroke-width="1.8"/>
<path d="M903.5 504.8 L905.1 502.6 L911.8 498.5 L916.8 493.5 L921.0 491.0 L931.9 491.8 L940.2 494.3 L948.5 497.6 L956.9 499.3 L973.6 498.5 L1006.9 499.3 L1046.0 500.1 L1100.0 501.5 L1300.0 502.5 L1440.0 501.5 L1453.6 499.3 L1470.3 496.8 L1475.3 491.8 L1478.6 496.0 L1493.6 496.0 L1503.5 495.1 L1503.5 505.0 L903.5 505.0 Z" fill="#2a6bcc" fill-opacity="0.19" stroke="none"/>
<g clip-path="url(#plotclip)">
<path d="M903.5 504.8 L905.1 502.6 L911.8 498.5 L916.8 493.5 L921.0 491.0 L931.9 491.8 L940.2 494.3 L948.5 497.6 L956.9 499.3 L973.6 498.5 L1006.9 499.3 L1046.0 500.1 L1100.0 501.5 L1300.0 502.5 L1440.0 501.5 L1453.6 499.3 L1470.3 496.8 L1475.3 491.8 L1478.6 496.0 L1493.6 496.0 L1503.5 495.1" transform="translate(1 1)" fill="none" stroke="#000000" stroke-opacity="0.035" stroke-width="5"/>
<path d="M903.5 504.8 L905.1 502.6 L911.8 498.5 L916.8 493.5 L921.0 491.0 L931.9 491.8 L940.2 494.3 L948.5 497.6 L956.9 499.3 L973.6 498.5 L1006.9 499.3 L1046.0 500.1 L1100.0 501.5 L1300.0 502.5 L1440.0 501.5 L1453.6 499.3 L1470.3 496.8 L1475.3 491.8 L1478.6 496.0 L1493.6 496.0 L1503.5 495.1" transform="translate(1 1)" fill="none" stroke="#000000" stroke-opacity="0.07" stroke-width="3"/>
<path d="M903.5 504.8 L905.1 502.6 L911.8 498.5 L916.8 493.5 L921.0 491.0 L931.9 491.8 L940.2 494.3 L948.5 497.6 L956.9 499.3 L973.6 498.5 L1006.9 499.3 L1046.0 500.1 L1100.0 501.5 L1300.0 502.5 L1440.0 501.5 L1453.6 499.3 L1470.3 496.8 L1475.3 491.8 L1478.6 496.0 L1493.6 496.0 L1503.5 495.1" transform="translate(1 1)" fill="none" stroke="#000000" stroke-opacity="0.11" stroke-width="1"/>
</g>
<path d="M903.5 504.8 L905.1 502.6 L911.8 498.5 L916.8 493.5 L921.0 491.0 L931.9 491.8 L940.2 494.3 L948.5 497.6 L956.9 499.3 L973.6 498.5 L1006.9 499.3 L1046.0 500.1 L1100.0 501.5 L1300.0 502.5 L1440.0 501.5 L1453.6 499.3 L1470.3 496.8 L1475.3 491.8 L1478.6 496.0 L1493.6 496.0 L1503.5 495.1" fill="none" stroke="#3f6fbf" stroke-width="1.8"/>
<path d="M205.0 505.0 L222.0 504.2 L235.0 502.6 L245.0 501.6 L260.0 502.2 L290.0 503.4 L330.0 504.2 L400.0 504.6 L1000.0 504.8 L1440.0 504.8 L1470.0 504.0 L1488.0 502.0 L1496.0 498.5 L1503.5 497.5 L1503.5 505.0 L205.0 505.0 Z" fill="#1a9f4a" fill-opacity="0.19" stroke="none"/>
<g clip-path="url(#plotclip)">
<path d="M205.0 505.0 L222.0 504.2 L235.0 502.6 L245.0 501.6 L260.0 502.2 L290.0 503.4 L330.0 504.2 L400.0 504.6 L1000.0 504.8 L1440.0 504.8 L1470.0 504.0 L1488.0 502.0 L1496.0 498.5 L1503.5 497.5" transform="translate(1 1)" fill="none" stroke="#000000" stroke-opacity="0.035" stroke-width="5"/>
<path d="M205.0 505.0 L222.0 504.2 L235.0 502.6 L245.0 501.6 L260.0 502.2 L290.0 503.4 L330.0 504.2 L400.0 504.6 L1000.0 504.8 L1440.0 504.8 L1470.0 504.0 L1488.0 502.0 L1496.0 498.5 L1503.5 497.5" transform="translate(1 1)" fill="none" stroke="#000000" stroke-opacity="0.07" stroke-width="3"/>
<path d="M205.0 505.0 L222.0 504.2 L235.0 502.6 L245.0 501.6 L260.0 502.2 L290.0 503.4 L330.0 504.2 L400.0 504.6 L1000.0 504.8 L1440.0 504.8 L1470.0 504.0 L1488.0 502.0 L1496.0 498.5 L1503.5 497.5" transform="translate(1 1)" fill="none" stroke="#000000" stroke-opacity="0.11" stroke-width="1"/>
</g>
<path d="M205.0 505.0 L222.0 504.2 L235.0 502.6 L245.0 501.6 L260.0 502.2 L290.0 503.4 L330.0 504.2 L400.0 504.6 L1000.0 504.8 L1440.0 504.8 L1470.0 504.0 L1488.0 502.0 L1496.0 498.5 L1503.5 497.5" fill="none" stroke="#2a9a55" stroke-width="1.6"/>
<path d="M1370.0 505.0 L1375.0 503.0 L1400.0 502.5 L1447.0 501.0 L1460.0 498.6 L1480.0 498.0 L1503.5 498.4 L1503.5 505.0 L1370.0 505.0 Z" fill="#1e80cf" fill-opacity="0.19" stroke="none"/>
<g clip-path="url(#plotclip)">
<path d="M1370.0 505.0 L1375.0 503.0 L1400.0 502.5 L1447.0 501.0 L1460.0 498.6 L1480.0 498.0 L1503.5 498.4" transform="translate(1 1)" fill="none" stroke="#000000" stroke-opacity="0.035" stroke-width="5"/>
<path d="M1370.0 505.0 L1375.0 503.0 L1400.0 502.5 L1447.0 501.0 L1460.0 498.6 L1480.0 498.0 L1503.5 498.4" transform="translate(1 1)" fill="none" stroke="#000000" stroke-opacity="0.07" stroke-width="3"/>
<path d="M1370.0 505.0 L1375.0 503.0 L1400.0 502.5 L1447.0 501.0 L1460.0 498.6 L1480.0 498.0 L1503.5 498.4" transform="translate(1 1)" fill="none" stroke="#000000" stroke-opacity="0.11" stroke-width="1"/>
</g>
<path d="M1370.0 505.0 L1375.0 503.0 L1400.0 502.5 L1447.0 501.0 L1460.0 498.6 L1480.0 498.0 L1503.5 498.4" fill="none" stroke="#2b82c9" stroke-width="1.8"/>
<path d="M1385.0 505.0 L1390.0 504.0 L1440.0 503.8 L1470.0 503.4 L1503.5 503.6 L1503.5 505.0 L1385.0 505.0 Z" fill="#7a3fc4" fill-opacity="0.19" stroke="none"/>
<g clip-path="url(#plotclip)">
<path d="M1385.0 505.0 L1390.0 504.0 L1440.0 503.8 L1470.0 503.4 L1503.5 503.6" transform="translate(1 1)" fill="none" stroke="#000000" stroke-opacity="0.035" stroke-width="5"/>
<path d="M1385.0 505.0 L1390.0 504.0 L1440.0 503.8 L1470.0 503.4 L1503.5 503.6" transform="translate(1 1)" fill="none" stroke="#000000" stroke-opacity="0.07" stroke-width="3"/>
<path d="M1385.0 505.0 L1390.0 504.0 L1440.0 503.8 L1470.0 503.4 L1503.5 503.6" transform="translate(1 1)" fill="none" stroke="#000000" stroke-opacity="0.11" stroke-width="1"/>
</g>
<path d="M1385.0 505.0 L1390.0 504.0 L1440.0 503.8 L1470.0 503.4 L1503.5 503.6" fill="none" stroke="#7a48ba" stroke-width="1.6"/>
<path d="M100.8 484.2 L106.8 486.5 L113.2 488.7 L116.9 490.1 L119.6 488.7 L124.2 490.1 L126.9 485.1 L131.5 481.9 L133.7 479.3 L136.9 482.8 L140.6 481.9 L146.0 484.6 L153.3 487.4 L158.8 490.1 L162.4 489.2 L165.2 488.7 L167.9 489.6 L172.5 491.9 L177.0 492.8 L181.6 493.8 L186.1 495.1 L190.7 494.7 L194.3 496.5 L198.0 499.2 L200.7 491.0 L204.4 476.9 L208.0 477.3 L211.2 476.9 L213.5 478.3 L215.8 482.8 L218.0 479.6 L222.6 481.4 L227.2 481.0 L235.0 482.4 L240.2 483.1 L243.5 484.3 L250.2 482.6 L255.2 483.4 L259.4 480.1 L263.6 482.6 L270.2 483.4 L275.2 484.3 L283.6 483.4 L288.6 485.9 L295.3 488.4 L301.9 490.1 L310.3 493.4 L320.3 493.4 L328.6 495.1 L340.3 496.4 L350.0 495.9 L360.0 495.1 L373.4 495.9 L386.7 496.8 L393.4 497.6 L403.4 498.4 L406.8 497.1 L423.4 497.6 L440.1 498.1 L456.8 498.1 L466.8 496.8 L473.5 495.1 L478.5 491.8 L482.7 485.9 L486.9 486.8 L491.0 489.3 L495.2 487.6 L500.2 488.4 L506.9 490.1 L516.9 490.9 L526.9 490.9 L533.6 490.1 L543.6 494.3 L556.9 495.9 L573.6 495.9 L576.7 497.6 L593.4 496.0 L626.8 496.0 L660.1 498.1 L693.5 498.5 L726.9 499.3 L760.3 500.1 L783.6 501.0 L793.6 498.5 L802.0 495.1 L805.3 491.0 L810.3 495.1 L811.7 496.8 L818.4 498.5 L825.9 494.3 L833.4 493.5 L839.2 491.0 L846.7 496.0 L856.8 497.6 L861.8 495.1 L870.1 496.8 L883.5 498.5 L896.8 499.3 L911.8 496.0 L923.5 496.8 L940.2 495.1 L956.9 493.5 L965.2 494.3 L973.6 496.0 L1006.9 496.8 L1046.0 497.6 L1080.1 498.4 L1096.8 497.6 L1113.4 495.9 L1130.1 493.4 L1143.5 491.7 L1155.2 494.3 L1163.5 494.3 L1175.2 492.1 L1188.5 495.9 L1205.2 497.6 L1230.3 497.6 L1253.6 496.4 L1286.0 496.8 L1300.0 497.5 L1400.0 499.0 L1450.0 499.5 L1503.5 498.0 L1503.5 505.0 L100.8 505.0 Z" fill="#888888" fill-opacity="0.19" stroke="none"/>
<g clip-path="url(#plotclip)">
<path d="M100.8 484.2 L106.8 486.5 L113.2 488.7 L116.9 490.1 L119.6 488.7 L124.2 490.1 L126.9 485.1 L131.5 481.9 L133.7 479.3 L136.9 482.8 L140.6 481.9 L146.0 484.6 L153.3 487.4 L158.8 490.1 L162.4 489.2 L165.2 488.7 L167.9 489.6 L172.5 491.9 L177.0 492.8 L181.6 493.8 L186.1 495.1 L190.7 494.7 L194.3 496.5 L198.0 499.2 L200.7 491.0 L204.4 476.9 L208.0 477.3 L211.2 476.9 L213.5 478.3 L215.8 482.8 L218.0 479.6 L222.6 481.4 L227.2 481.0 L235.0 482.4 L240.2 483.1 L243.5 484.3 L250.2 482.6 L255.2 483.4 L259.4 480.1 L263.6 482.6 L270.2 483.4 L275.2 484.3 L283.6 483.4 L288.6 485.9 L295.3 488.4 L301.9 490.1 L310.3 493.4 L320.3 493.4 L328.6 495.1 L340.3 496.4 L350.0 495.9 L360.0 495.1 L373.4 495.9 L386.7 496.8 L393.4 497.6 L403.4 498.4 L406.8 497.1 L423.4 497.6 L440.1 498.1 L456.8 498.1 L466.8 496.8 L473.5 495.1 L478.5 491.8 L482.7 485.9 L486.9 486.8 L491.0 489.3 L495.2 487.6 L500.2 488.4 L506.9 490.1 L516.9 490.9 L526.9 490.9 L533.6 490.1 L543.6 494.3 L556.9 495.9 L573.6 495.9 L576.7 497.6 L593.4 496.0 L626.8 496.0 L660.1 498.1 L693.5 498.5 L726.9 499.3 L760.3 500.1 L783.6 501.0 L793.6 498.5 L802.0 495.1 L805.3 491.0 L810.3 495.1 L811.7 496.8 L818.4 498.5 L825.9 494.3 L833.4 493.5 L839.2 491.0 L846.7 496.0 L856.8 497.6 L861.8 495.1 L870.1 496.8 L883.5 498.5 L896.8 499.3 L911.8 496.0 L923.5 496.8 L940.2 495.1 L956.9 493.5 L965.2 494.3 L973.6 496.0 L1006.9 496.8 L1046.0 497.6 L1080.1 498.4 L1096.8 497.6 L1113.4 495.9 L1130.1 493.4 L1143.5 491.7 L1155.2 494.3 L1163.5 494.3 L1175.2 492.1 L1188.5 495.9 L1205.2 497.6 L1230.3 497.6 L1253.6 496.4 L1286.0 496.8 L1300.0 497.5 L1400.0 499.0 L1450.0 499.5 L1503.5 498.0" transform="translate(1 1)" fill="none" stroke="#000000" stroke-opacity="0.035" stroke-width="5"/>
<path d="M100.8 484.2 L106.8 486.5 L113.2 488.7 L116.9 490.1 L119.6 488.7 L124.2 490.1 L126.9 485.1 L131.5 481.9 L133.7 479.3 L136.9 482.8 L140.6 481.9 L146.0 484.6 L153.3 487.4 L158.8 490.1 L162.4 489.2 L165.2 488.7 L167.9 489.6 L172.5 491.9 L177.0 492.8 L181.6 493.8 L186.1 495.1 L190.7 494.7 L194.3 496.5 L198.0 499.2 L200.7 491.0 L204.4 476.9 L208.0 477.3 L211.2 476.9 L213.5 478.3 L215.8 482.8 L218.0 479.6 L222.6 481.4 L227.2 481.0 L235.0 482.4 L240.2 483.1 L243.5 484.3 L250.2 482.6 L255.2 483.4 L259.4 480.1 L263.6 482.6 L270.2 483.4 L275.2 484.3 L283.6 483.4 L288.6 485.9 L295.3 488.4 L301.9 490.1 L310.3 493.4 L320.3 493.4 L328.6 495.1 L340.3 496.4 L350.0 495.9 L360.0 495.1 L373.4 495.9 L386.7 496.8 L393.4 497.6 L403.4 498.4 L406.8 497.1 L423.4 497.6 L440.1 498.1 L456.8 498.1 L466.8 496.8 L473.5 495.1 L478.5 491.8 L482.7 485.9 L486.9 486.8 L491.0 489.3 L495.2 487.6 L500.2 488.4 L506.9 490.1 L516.9 490.9 L526.9 490.9 L533.6 490.1 L543.6 494.3 L556.9 495.9 L573.6 495.9 L576.7 497.6 L593.4 496.0 L626.8 496.0 L660.1 498.1 L693.5 498.5 L726.9 499.3 L760.3 500.1 L783.6 501.0 L793.6 498.5 L802.0 495.1 L805.3 491.0 L810.3 495.1 L811.7 496.8 L818.4 498.5 L825.9 494.3 L833.4 493.5 L839.2 491.0 L846.7 496.0 L856.8 497.6 L861.8 495.1 L870.1 496.8 L883.5 498.5 L896.8 499.3 L911.8 496.0 L923.5 496.8 L940.2 495.1 L956.9 493.5 L965.2 494.3 L973.6 496.0 L1006.9 496.8 L1046.0 497.6 L1080.1 498.4 L1096.8 497.6 L1113.4 495.9 L1130.1 493.4 L1143.5 491.7 L1155.2 494.3 L1163.5 494.3 L1175.2 492.1 L1188.5 495.9 L1205.2 497.6 L1230.3 497.6 L1253.6 496.4 L1286.0 496.8 L1300.0 497.5 L1400.0 499.0 L1450.0 499.5 L1503.5 498.0" transform="translate(1 1)" fill="none" stroke="#000000" stroke-opacity="0.07" stroke-width="3"/>
<path d="M100.8 484.2 L106.8 486.5 L113.2 488.7 L116.9 490.1 L119.6 488.7 L124.2 490.1 L126.9 485.1 L131.5 481.9 L133.7 479.3 L136.9 482.8 L140.6 481.9 L146.0 484.6 L153.3 487.4 L158.8 490.1 L162.4 489.2 L165.2 488.7 L167.9 489.6 L172.5 491.9 L177.0 492.8 L181.6 493.8 L186.1 495.1 L190.7 494.7 L194.3 496.5 L198.0 499.2 L200.7 491.0 L204.4 476.9 L208.0 477.3 L211.2 476.9 L213.5 478.3 L215.8 482.8 L218.0 479.6 L222.6 481.4 L227.2 481.0 L235.0 482.4 L240.2 483.1 L243.5 484.3 L250.2 482.6 L255.2 483.4 L259.4 480.1 L263.6 482.6 L270.2 483.4 L275.2 484.3 L283.6 483.4 L288.6 485.9 L295.3 488.4 L301.9 490.1 L310.3 493.4 L320.3 493.4 L328.6 495.1 L340.3 496.4 L350.0 495.9 L360.0 495.1 L373.4 495.9 L386.7 496.8 L393.4 497.6 L403.4 498.4 L406.8 497.1 L423.4 497.6 L440.1 498.1 L456.8 498.1 L466.8 496.8 L473.5 495.1 L478.5 491.8 L482.7 485.9 L486.9 486.8 L491.0 489.3 L495.2 487.6 L500.2 488.4 L506.9 490.1 L516.9 490.9 L526.9 490.9 L533.6 490.1 L543.6 494.3 L556.9 495.9 L573.6 495.9 L576.7 497.6 L593.4 496.0 L626.8 496.0 L660.1 498.1 L693.5 498.5 L726.9 499.3 L760.3 500.1 L783.6 501.0 L793.6 498.5 L802.0 495.1 L805.3 491.0 L810.3 495.1 L811.7 496.8 L818.4 498.5 L825.9 494.3 L833.4 493.5 L839.2 491.0 L846.7 496.0 L856.8 497.6 L861.8 495.1 L870.1 496.8 L883.5 498.5 L896.8 499.3 L911.8 496.0 L923.5 496.8 L940.2 495.1 L956.9 493.5 L965.2 494.3 L973.6 496.0 L1006.9 496.8 L1046.0 497.6 L1080.1 498.4 L1096.8 497.6 L1113.4 495.9 L1130.1 493.4 L1143.5 491.7 L1155.2 494.3 L1163.5 494.3 L1175.2 492.1 L1188.5 495.9 L1205.2 497.6 L1230.3 497.6 L1253.6 496.4 L1286.0 496.8 L1300.0 497.5 L1400.0 499.0 L1450.0 499.5 L1503.5 498.0" transform="translate(1 1)" fill="none" stroke="#000000" stroke-opacity="0.11" stroke-width="1"/>
</g>
<path d="M100.8 484.2 L106.8 486.5 L113.2 488.7 L116.9 490.1 L119.6 488.7 L124.2 490.1 L126.9 485.1 L131.5 481.9 L133.7 479.3 L136.9 482.8 L140.6 481.9 L146.0 484.6 L153.3 487.4 L158.8 490.1 L162.4 489.2 L165.2 488.7 L167.9 489.6 L172.5 491.9 L177.0 492.8 L181.6 493.8 L186.1 495.1 L190.7 494.7 L194.3 496.5 L198.0 499.2 L200.7 491.0 L204.4 476.9 L208.0 477.3 L211.2 476.9 L213.5 478.3 L215.8 482.8 L218.0 479.6 L222.6 481.4 L227.2 481.0 L235.0 482.4 L240.2 483.1 L243.5 484.3 L250.2 482.6 L255.2 483.4 L259.4 480.1 L263.6 482.6 L270.2 483.4 L275.2 484.3 L283.6 483.4 L288.6 485.9 L295.3 488.4 L301.9 490.1 L310.3 493.4 L320.3 493.4 L328.6 495.1 L340.3 496.4 L350.0 495.9 L360.0 495.1 L373.4 495.9 L386.7 496.8 L393.4 497.6 L403.4 498.4 L406.8 497.1 L423.4 497.6 L440.1 498.1 L456.8 498.1 L466.8 496.8 L473.5 495.1 L478.5 491.8 L482.7 485.9 L486.9 486.8 L491.0 489.3 L495.2 487.6 L500.2 488.4 L506.9 490.1 L516.9 490.9 L526.9 490.9 L533.6 490.1 L543.6 494.3 L556.9 495.9 L573.6 495.9 L576.7 497.6 L593.4 496.0 L626.8 496.0 L660.1 498.1 L693.5 498.5 L726.9 499.3 L760.3 500.1 L783.6 501.0 L793.6 498.5 L802.0 495.1 L805.3 491.0 L810.3 495.1 L811.7 496.8 L818.4 498.5 L825.9 494.3 L833.4 493.5 L839.2 491.0 L846.7 496.0 L856.8 497.6 L861.8 495.1 L870.1 496.8 L883.5 498.5 L896.8 499.3 L911.8 496.0 L923.5 496.8 L940.2 495.1 L956.9 493.5 L965.2 494.3 L973.6 496.0 L1006.9 496.8 L1046.0 497.6 L1080.1 498.4 L1096.8 497.6 L1113.4 495.9 L1130.1 493.4 L1143.5 491.7 L1155.2 494.3 L1163.5 494.3 L1175.2 492.1 L1188.5 495.9 L1205.2 497.6 L1230.3 497.6 L1253.6 496.4 L1286.0 496.8 L1300.0 497.5 L1400.0 499.0 L1450.0 499.5 L1503.5 498.0" fill="none" stroke="#8c8579" stroke-width="2.0"/>
<path d="M100.8 502.4 L105.9 501.0 L111.4 501.5 L118.7 502.9 L126.9 503.3 L134.2 502.4 L143.3 503.8 L149.7 502.0 L157.0 500.6 L166.1 502.4 L170.7 501.5 L177.0 502.9 L182.5 502.0 L190.7 503.8 L195.3 504.7 L200.7 501.0 L205.7 492.4 L209.8 494.7 L216.2 492.8 L219.0 485.1 L220.8 484.6 L224.4 486.5 L226.8 489.3 L233.5 487.6 L240.2 488.4 L245.2 480.9 L249.4 475.9 L252.7 477.6 L256.0 481.7 L259.4 479.2 L262.7 486.8 L270.2 490.9 L278.6 488.4 L288.6 486.8 L295.3 488.4 L303.6 490.9 L311.9 492.6 L320.3 493.1 L328.6 494.3 L335.3 490.9 L340.0 487.6 L348.3 484.3 L356.7 485.9 L365.0 488.4 L373.4 489.3 L386.7 487.6 L390.1 477.6 L393.4 475.1 L396.7 482.6 L400.1 483.4 L402.6 481.7 L410.1 484.3 L423.4 486.8 L433.5 487.6 L443.5 487.6 L456.8 488.4 L463.5 485.1 L473.5 483.7 L483.5 484.3 L493.5 485.9 L506.9 486.8 L523.6 487.6 L533.6 487.6 L543.6 493.4 L556.9 495.1 L573.6 495.1 L575.0 496.0 L585.0 491.0 L593.4 489.3 L605.1 486.4 L613.4 485.1 L621.7 486.8 L633.4 487.6 L639.3 486.4 L642.6 482.6 L646.8 483.4 L652.6 485.9 L660.1 480.1 L663.5 473.4 L668.5 468.4 L676.8 469.3 L688.5 468.4 L696.8 470.1 L705.2 472.6 L716.9 475.1 L726.9 478.4 L736.9 479.8 L746.9 478.4 L750.2 475.9 L760.3 475.9 L771.9 476.8 L780.3 468.4 L783.6 459.2 L788.6 462.6 L796.7 455.1 L803.4 445.9 L811.7 444.2 L815.0 435.0 L820.0 428.4 L825.9 419.7 L833.4 430.1 L840.0 423.5 L844.2 416.8 L848.4 421.0 L850.9 403.4 L853.4 400.9 L856.7 380.1 L859.2 379.2 L862.6 383.4 L873.4 394.3 L878.4 395.9 L881.8 408.4 L885.1 420.1 L889.3 421.0 L891.8 416.8 L895.1 423.5 L897.6 381.7 L900.9 397.6 L903.4 385.9 L908.5 395.9 L912.6 405.9 L915.1 398.4 L917.6 366.7 L919.3 362.5 L921.8 370.1 L925.1 360.0 L928.5 355.9 L933.5 357.5 L938.5 364.2 L943.5 365.9 L948.5 374.2 L953.5 381.7 L958.5 388.4 L961.0 380.1 L965.2 382.6 L969.4 378.4 L972.7 368.4 L976.0 356.7 L979.4 345.0 L983.6 348.4 L988.6 353.4 L993.6 359.2 L996.9 357.5 L1001.9 368.4 L1006.9 379.2 L1011.9 375.1 L1016.9 380.1 L1023.6 388.4 L1029.4 396.8 L1035.3 398.4 L1037.8 395.9 L1042.0 397.6 L1050.3 400.1 L1055.3 397.6 L1060.3 399.3 L1065.3 397.6 L1071.0 393.4 L1073.4 397.5 L1076.7 403.4 L1080.1 409.2 L1083.4 405.0 L1085.9 409.2 L1089.2 411.7 L1092.6 403.4 L1095.9 408.4 L1101.8 410.9 L1108.4 408.4 L1113.4 411.7 L1120.1 410.9 L1126.8 408.4 L1133.5 403.4 L1140.1 397.5 L1143.5 395.9 L1147.7 400.9 L1153.5 408.4 L1158.5 413.4 L1161.0 417.5 L1166.8 417.5 L1170.2 412.5 L1173.5 412.5 L1178.5 418.4 L1185.2 427.6 L1190.2 434.2 L1196.9 432.6 L1203.6 440.9 L1210.2 442.6 L1218.6 443.4 L1226.9 443.4 L1233.6 441.7 L1241.1 442.6 L1248.6 435.1 L1255.3 435.9 L1263.6 435.1 L1268.6 438.4 L1270.0 438.4 L1276.7 435.0 L1281.7 428.4 L1290.0 422.5 L1296.7 425.9 L1303.4 427.5 L1311.7 426.7 L1320.1 430.9 L1328.4 430.0 L1335.9 435.0 L1338.4 427.5 L1342.6 435.0 L1350.1 434.2 L1360.1 430.0 L1366.8 422.5 L1370.1 421.7 L1376.0 429.2 L1381.8 418.4 L1388.5 412.5 L1393.5 418.4 L1400.2 421.7 L1408.5 423.4 L1413.5 427.5 L1420.2 439.2 L1428.5 444.2 L1436.9 444.2 L1443.6 447.6 L1446.9 453.4 L1450.2 460.9 L1453.6 454.2 L1461.9 445.9 L1470.3 440.1 L1476.9 442.6 L1483.6 433.4 L1492.0 421.7 L1500.3 415.9 L1503.5 420.0 L1503.5 505.0 L100.8 505.0 Z" fill="#dddddd" fill-opacity="0.19" stroke="none"/>
<g clip-path="url(#plotclip)">
<path d="M100.8 502.4 L105.9 501.0 L111.4 501.5 L118.7 502.9 L126.9 503.3 L134.2 502.4 L143.3 503.8 L149.7 502.0 L157.0 500.6 L166.1 502.4 L170.7 501.5 L177.0 502.9 L182.5 502.0 L190.7 503.8 L195.3 504.7 L200.7 501.0 L205.7 492.4 L209.8 494.7 L216.2 492.8 L219.0 485.1 L220.8 484.6 L224.4 486.5 L226.8 489.3 L233.5 487.6 L240.2 488.4 L245.2 480.9 L249.4 475.9 L252.7 477.6 L256.0 481.7 L259.4 479.2 L262.7 486.8 L270.2 490.9 L278.6 488.4 L288.6 486.8 L295.3 488.4 L303.6 490.9 L311.9 492.6 L320.3 493.1 L328.6 494.3 L335.3 490.9 L340.0 487.6 L348.3 484.3 L356.7 485.9 L365.0 488.4 L373.4 489.3 L386.7 487.6 L390.1 477.6 L393.4 475.1 L396.7 482.6 L400.1 483.4 L402.6 481.7 L410.1 484.3 L423.4 486.8 L433.5 487.6 L443.5 487.6 L456.8 488.4 L463.5 485.1 L473.5 483.7 L483.5 484.3 L493.5 485.9 L506.9 486.8 L523.6 487.6 L533.6 487.6 L543.6 493.4 L556.9 495.1 L573.6 495.1 L575.0 496.0 L585.0 491.0 L593.4 489.3 L605.1 486.4 L613.4 485.1 L621.7 486.8 L633.4 487.6 L639.3 486.4 L642.6 482.6 L646.8 483.4 L652.6 485.9 L660.1 480.1 L663.5 473.4 L668.5 468.4 L676.8 469.3 L688.5 468.4 L696.8 470.1 L705.2 472.6 L716.9 475.1 L726.9 478.4 L736.9 479.8 L746.9 478.4 L750.2 475.9 L760.3 475.9 L771.9 476.8 L780.3 468.4 L783.6 459.2 L788.6 462.6 L796.7 455.1 L803.4 445.9 L811.7 444.2 L815.0 435.0 L820.0 428.4 L825.9 419.7 L833.4 430.1 L840.0 423.5 L844.2 416.8 L848.4 421.0 L850.9 403.4 L853.4 400.9 L856.7 380.1 L859.2 379.2 L862.6 383.4 L873.4 394.3 L878.4 395.9 L881.8 408.4 L885.1 420.1 L889.3 421.0 L891.8 416.8 L895.1 423.5 L897.6 381.7 L900.9 397.6 L903.4 385.9 L908.5 395.9 L912.6 405.9 L915.1 398.4 L917.6 366.7 L919.3 362.5 L921.8 370.1 L925.1 360.0 L928.5 355.9 L933.5 357.5 L938.5 364.2 L943.5 365.9 L948.5 374.2 L953.5 381.7 L958.5 388.4 L961.0 380.1 L965.2 382.6 L969.4 378.4 L972.7 368.4 L976.0 356.7 L979.4 345.0 L983.6 348.4 L988.6 353.4 L993.6 359.2 L996.9 357.5 L1001.9 368.4 L1006.9 379.2 L1011.9 375.1 L1016.9 380.1 L1023.6 388.4 L1029.4 396.8 L1035.3 398.4 L1037.8 395.9 L1042.0 397.6 L1050.3 400.1 L1055.3 397.6 L1060.3 399.3 L1065.3 397.6 L1071.0 393.4 L1073.4 397.5 L1076.7 403.4 L1080.1 409.2 L1083.4 405.0 L1085.9 409.2 L1089.2 411.7 L1092.6 403.4 L1095.9 408.4 L1101.8 410.9 L1108.4 408.4 L1113.4 411.7 L1120.1 410.9 L1126.8 408.4 L1133.5 403.4 L1140.1 397.5 L1143.5 395.9 L1147.7 400.9 L1153.5 408.4 L1158.5 413.4 L1161.0 417.5 L1166.8 417.5 L1170.2 412.5 L1173.5 412.5 L1178.5 418.4 L1185.2 427.6 L1190.2 434.2 L1196.9 432.6 L1203.6 440.9 L1210.2 442.6 L1218.6 443.4 L1226.9 443.4 L1233.6 441.7 L1241.1 442.6 L1248.6 435.1 L1255.3 435.9 L1263.6 435.1 L1268.6 438.4 L1270.0 438.4 L1276.7 435.0 L1281.7 428.4 L1290.0 422.5 L1296.7 425.9 L1303.4 427.5 L1311.7 426.7 L1320.1 430.9 L1328.4 430.0 L1335.9 435.0 L1338.4 427.5 L1342.6 435.0 L1350.1 434.2 L1360.1 430.0 L1366.8 422.5 L1370.1 421.7 L1376.0 429.2 L1381.8 418.4 L1388.5 412.5 L1393.5 418.4 L1400.2 421.7 L1408.5 423.4 L1413.5 427.5 L1420.2 439.2 L1428.5 444.2 L1436.9 444.2 L1443.6 447.6 L1446.9 453.4 L1450.2 460.9 L1453.6 454.2 L1461.9 445.9 L1470.3 440.1 L1476.9 442.6 L1483.6 433.4 L1492.0 421.7 L1500.3 415.9 L1503.5 420.0" transform="translate(1 1)" fill="none" stroke="#000000" stroke-opacity="0.035" stroke-width="5"/>
<path d="M100.8 502.4 L105.9 501.0 L111.4 501.5 L118.7 502.9 L126.9 503.3 L134.2 502.4 L143.3 503.8 L149.7 502.0 L157.0 500.6 L166.1 502.4 L170.7 501.5 L177.0 502.9 L182.5 502.0 L190.7 503.8 L195.3 504.7 L200.7 501.0 L205.7 492.4 L209.8 494.7 L216.2 492.8 L219.0 485.1 L220.8 484.6 L224.4 486.5 L226.8 489.3 L233.5 487.6 L240.2 488.4 L245.2 480.9 L249.4 475.9 L252.7 477.6 L256.0 481.7 L259.4 479.2 L262.7 486.8 L270.2 490.9 L278.6 488.4 L288.6 486.8 L295.3 488.4 L303.6 490.9 L311.9 492.6 L320.3 493.1 L328.6 494.3 L335.3 490.9 L340.0 487.6 L348.3 484.3 L356.7 485.9 L365.0 488.4 L373.4 489.3 L386.7 487.6 L390.1 477.6 L393.4 475.1 L396.7 482.6 L400.1 483.4 L402.6 481.7 L410.1 484.3 L423.4 486.8 L433.5 487.6 L443.5 487.6 L456.8 488.4 L463.5 485.1 L473.5 483.7 L483.5 484.3 L493.5 485.9 L506.9 486.8 L523.6 487.6 L533.6 487.6 L543.6 493.4 L556.9 495.1 L573.6 495.1 L575.0 496.0 L585.0 491.0 L593.4 489.3 L605.1 486.4 L613.4 485.1 L621.7 486.8 L633.4 487.6 L639.3 486.4 L642.6 482.6 L646.8 483.4 L652.6 485.9 L660.1 480.1 L663.5 473.4 L668.5 468.4 L676.8 469.3 L688.5 468.4 L696.8 470.1 L705.2 472.6 L716.9 475.1 L726.9 478.4 L736.9 479.8 L746.9 478.4 L750.2 475.9 L760.3 475.9 L771.9 476.8 L780.3 468.4 L783.6 459.2 L788.6 462.6 L796.7 455.1 L803.4 445.9 L811.7 444.2 L815.0 435.0 L820.0 428.4 L825.9 419.7 L833.4 430.1 L840.0 423.5 L844.2 416.8 L848.4 421.0 L850.9 403.4 L853.4 400.9 L856.7 380.1 L859.2 379.2 L862.6 383.4 L873.4 394.3 L878.4 395.9 L881.8 408.4 L885.1 420.1 L889.3 421.0 L891.8 416.8 L895.1 423.5 L897.6 381.7 L900.9 397.6 L903.4 385.9 L908.5 395.9 L912.6 405.9 L915.1 398.4 L917.6 366.7 L919.3 362.5 L921.8 370.1 L925.1 360.0 L928.5 355.9 L933.5 357.5 L938.5 364.2 L943.5 365.9 L948.5 374.2 L953.5 381.7 L958.5 388.4 L961.0 380.1 L965.2 382.6 L969.4 378.4 L972.7 368.4 L976.0 356.7 L979.4 345.0 L983.6 348.4 L988.6 353.4 L993.6 359.2 L996.9 357.5 L1001.9 368.4 L1006.9 379.2 L1011.9 375.1 L1016.9 380.1 L1023.6 388.4 L1029.4 396.8 L1035.3 398.4 L1037.8 395.9 L1042.0 397.6 L1050.3 400.1 L1055.3 397.6 L1060.3 399.3 L1065.3 397.6 L1071.0 393.4 L1073.4 397.5 L1076.7 403.4 L1080.1 409.2 L1083.4 405.0 L1085.9 409.2 L1089.2 411.7 L1092.6 403.4 L1095.9 408.4 L1101.8 410.9 L1108.4 408.4 L1113.4 411.7 L1120.1 410.9 L1126.8 408.4 L1133.5 403.4 L1140.1 397.5 L1143.5 395.9 L1147.7 400.9 L1153.5 408.4 L1158.5 413.4 L1161.0 417.5 L1166.8 417.5 L1170.2 412.5 L1173.5 412.5 L1178.5 418.4 L1185.2 427.6 L1190.2 434.2 L1196.9 432.6 L1203.6 440.9 L1210.2 442.6 L1218.6 443.4 L1226.9 443.4 L1233.6 441.7 L1241.1 442.6 L1248.6 435.1 L1255.3 435.9 L1263.6 435.1 L1268.6 438.4 L1270.0 438.4 L1276.7 435.0 L1281.7 428.4 L1290.0 422.5 L1296.7 425.9 L1303.4 427.5 L1311.7 426.7 L1320.1 430.9 L1328.4 430.0 L1335.9 435.0 L1338.4 427.5 L1342.6 435.0 L1350.1 434.2 L1360.1 430.0 L1366.8 422.5 L1370.1 421.7 L1376.0 429.2 L1381.8 418.4 L1388.5 412.5 L1393.5 418.4 L1400.2 421.7 L1408.5 423.4 L1413.5 427.5 L1420.2 439.2 L1428.5 444.2 L1436.9 444.2 L1443.6 447.6 L1446.9 453.4 L1450.2 460.9 L1453.6 454.2 L1461.9 445.9 L1470.3 440.1 L1476.9 442.6 L1483.6 433.4 L1492.0 421.7 L1500.3 415.9 L1503.5 420.0" transform="translate(1 1)" fill="none" stroke="#000000" stroke-opacity="0.07" stroke-width="3"/>
<path d="M100.8 502.4 L105.9 501.0 L111.4 501.5 L118.7 502.9 L126.9 503.3 L134.2 502.4 L143.3 503.8 L149.7 502.0 L157.0 500.6 L166.1 502.4 L170.7 501.5 L177.0 502.9 L182.5 502.0 L190.7 503.8 L195.3 504.7 L200.7 501.0 L205.7 492.4 L209.8 494.7 L216.2 492.8 L219.0 485.1 L220.8 484.6 L224.4 486.5 L226.8 489.3 L233.5 487.6 L240.2 488.4 L245.2 480.9 L249.4 475.9 L252.7 477.6 L256.0 481.7 L259.4 479.2 L262.7 486.8 L270.2 490.9 L278.6 488.4 L288.6 486.8 L295.3 488.4 L303.6 490.9 L311.9 492.6 L320.3 493.1 L328.6 494.3 L335.3 490.9 L340.0 487.6 L348.3 484.3 L356.7 485.9 L365.0 488.4 L373.4 489.3 L386.7 487.6 L390.1 477.6 L393.4 475.1 L396.7 482.6 L400.1 483.4 L402.6 481.7 L410.1 484.3 L423.4 486.8 L433.5 487.6 L443.5 487.6 L456.8 488.4 L463.5 485.1 L473.5 483.7 L483.5 484.3 L493.5 485.9 L506.9 486.8 L523.6 487.6 L533.6 487.6 L543.6 493.4 L556.9 495.1 L573.6 495.1 L575.0 496.0 L585.0 491.0 L593.4 489.3 L605.1 486.4 L613.4 485.1 L621.7 486.8 L633.4 487.6 L639.3 486.4 L642.6 482.6 L646.8 483.4 L652.6 485.9 L660.1 480.1 L663.5 473.4 L668.5 468.4 L676.8 469.3 L688.5 468.4 L696.8 470.1 L705.2 472.6 L716.9 475.1 L726.9 478.4 L736.9 479.8 L746.9 478.4 L750.2 475.9 L760.3 475.9 L771.9 476.8 L780.3 468.4 L783.6 459.2 L788.6 462.6 L796.7 455.1 L803.4 445.9 L811.7 444.2 L815.0 435.0 L820.0 428.4 L825.9 419.7 L833.4 430.1 L840.0 423.5 L844.2 416.8 L848.4 421.0 L850.9 403.4 L853.4 400.9 L856.7 380.1 L859.2 379.2 L862.6 383.4 L873.4 394.3 L878.4 395.9 L881.8 408.4 L885.1 420.1 L889.3 421.0 L891.8 416.8 L895.1 423.5 L897.6 381.7 L900.9 397.6 L903.4 385.9 L908.5 395.9 L912.6 405.9 L915.1 398.4 L917.6 366.7 L919.3 362.5 L921.8 370.1 L925.1 360.0 L928.5 355.9 L933.5 357.5 L938.5 364.2 L943.5 365.9 L948.5 374.2 L953.5 381.7 L958.5 388.4 L961.0 380.1 L965.2 382.6 L969.4 378.4 L972.7 368.4 L976.0 356.7 L979.4 345.0 L983.6 348.4 L988.6 353.4 L993.6 359.2 L996.9 357.5 L1001.9 368.4 L1006.9 379.2 L1011.9 375.1 L1016.9 380.1 L1023.6 388.4 L1029.4 396.8 L1035.3 398.4 L1037.8 395.9 L1042.0 397.6 L1050.3 400.1 L1055.3 397.6 L1060.3 399.3 L1065.3 397.6 L1071.0 393.4 L1073.4 397.5 L1076.7 403.4 L1080.1 409.2 L1083.4 405.0 L1085.9 409.2 L1089.2 411.7 L1092.6 403.4 L1095.9 408.4 L1101.8 410.9 L1108.4 408.4 L1113.4 411.7 L1120.1 410.9 L1126.8 408.4 L1133.5 403.4 L1140.1 397.5 L1143.5 395.9 L1147.7 400.9 L1153.5 408.4 L1158.5 413.4 L1161.0 417.5 L1166.8 417.5 L1170.2 412.5 L1173.5 412.5 L1178.5 418.4 L1185.2 427.6 L1190.2 434.2 L1196.9 432.6 L1203.6 440.9 L1210.2 442.6 L1218.6 443.4 L1226.9 443.4 L1233.6 441.7 L1241.1 442.6 L1248.6 435.1 L1255.3 435.9 L1263.6 435.1 L1268.6 438.4 L1270.0 438.4 L1276.7 435.0 L1281.7 428.4 L1290.0 422.5 L1296.7 425.9 L1303.4 427.5 L1311.7 426.7 L1320.1 430.9 L1328.4 430.0 L1335.9 435.0 L1338.4 427.5 L1342.6 435.0 L1350.1 434.2 L1360.1 430.0 L1366.8 422.5 L1370.1 421.7 L1376.0 429.2 L1381.8 418.4 L1388.5 412.5 L1393.5 418.4 L1400.2 421.7 L1408.5 423.4 L1413.5 427.5 L1420.2 439.2 L1428.5 444.2 L1436.9 444.2 L1443.6 447.6 L1446.9 453.4 L1450.2 460.9 L1453.6 454.2 L1461.9 445.9 L1470.3 440.1 L1476.9 442.6 L1483.6 433.4 L1492.0 421.7 L1500.3 415.9 L1503.5 420.0" transform="translate(1 1)" fill="none" stroke="#000000" stroke-opacity="0.11" stroke-width="1"/>
</g>
<path d="M100.8 502.4 L105.9 501.0 L111.4 501.5 L118.7 502.9 L126.9 503.3 L134.2 502.4 L143.3 503.8 L149.7 502.0 L157.0 500.6 L166.1 502.4 L170.7 501.5 L177.0 502.9 L182.5 502.0 L190.7 503.8 L195.3 504.7 L200.7 501.0 L205.7 492.4 L209.8 494.7 L216.2 492.8 L219.0 485.1 L220.8 484.6 L224.4 486.5 L226.8 489.3 L233.5 487.6 L240.2 488.4 L245.2 480.9 L249.4 475.9 L252.7 477.6 L256.0 481.7 L259.4 479.2 L262.7 486.8 L270.2 490.9 L278.6 488.4 L288.6 486.8 L295.3 488.4 L303.6 490.9 L311.9 492.6 L320.3 493.1 L328.6 494.3 L335.3 490.9 L340.0 487.6 L348.3 484.3 L356.7 485.9 L365.0 488.4 L373.4 489.3 L386.7 487.6 L390.1 477.6 L393.4 475.1 L396.7 482.6 L400.1 483.4 L402.6 481.7 L410.1 484.3 L423.4 486.8 L433.5 487.6 L443.5 487.6 L456.8 488.4 L463.5 485.1 L473.5 483.7 L483.5 484.3 L493.5 485.9 L506.9 486.8 L523.6 487.6 L533.6 487.6 L543.6 493.4 L556.9 495.1 L573.6 495.1 L575.0 496.0 L585.0 491.0 L593.4 489.3 L605.1 486.4 L613.4 485.1 L621.7 486.8 L633.4 487.6 L639.3 486.4 L642.6 482.6 L646.8 483.4 L652.6 485.9 L660.1 480.1 L663.5 473.4 L668.5 468.4 L676.8 469.3 L688.5 468.4 L696.8 470.1 L705.2 472.6 L716.9 475.1 L726.9 478.4 L736.9 479.8 L746.9 478.4 L750.2 475.9 L760.3 475.9 L771.9 476.8 L780.3 468.4 L783.6 459.2 L788.6 462.6 L796.7 455.1 L803.4 445.9 L811.7 444.2 L815.0 435.0 L820.0 428.4 L825.9 419.7 L833.4 430.1 L840.0 423.5 L844.2 416.8 L848.4 421.0 L850.9 403.4 L853.4 400.9 L856.7 380.1 L859.2 379.2 L862.6 383.4 L873.4 394.3 L878.4 395.9 L881.8 408.4 L885.1 420.1 L889.3 421.0 L891.8 416.8 L895.1 423.5 L897.6 381.7 L900.9 397.6 L903.4 385.9 L908.5 395.9 L912.6 405.9 L915.1 398.4 L917.6 366.7 L919.3 362.5 L921.8 370.1 L925.1 360.0 L928.5 355.9 L933.5 357.5 L938.5 364.2 L943.5 365.9 L948.5 374.2 L953.5 381.7 L958.5 388.4 L961.0 380.1 L965.2 382.6 L969.4 378.4 L972.7 368.4 L976.0 356.7 L979.4 345.0 L983.6 348.4 L988.6 353.4 L993.6 359.2 L996.9 357.5 L1001.9 368.4 L1006.9 379.2 L1011.9 375.1 L1016.9 380.1 L1023.6 388.4 L1029.4 396.8 L1035.3 398.4 L1037.8 395.9 L1042.0 397.6 L1050.3 400.1 L1055.3 397.6 L1060.3 399.3 L1065.3 397.6 L1071.0 393.4 L1073.4 397.5 L1076.7 403.4 L1080.1 409.2 L1083.4 405.0 L1085.9 409.2 L1089.2 411.7 L1092.6 403.4 L1095.9 408.4 L1101.8 410.9 L1108.4 408.4 L1113.4 411.7 L1120.1 410.9 L1126.8 408.4 L1133.5 403.4 L1140.1 397.5 L1143.5 395.9 L1147.7 400.9 L1153.5 408.4 L1158.5 413.4 L1161.0 417.5 L1166.8 417.5 L1170.2 412.5 L1173.5 412.5 L1178.5 418.4 L1185.2 427.6 L1190.2 434.2 L1196.9 432.6 L1203.6 440.9 L1210.2 442.6 L1218.6 443.4 L1226.9 443.4 L1233.6 441.7 L1241.1 442.6 L1248.6 435.1 L1255.3 435.9 L1263.6 435.1 L1268.6 438.4 L1270.0 438.4 L1276.7 435.0 L1281.7 428.4 L1290.0 422.5 L1296.7 425.9 L1303.4 427.5 L1311.7 426.7 L1320.1 430.9 L1328.4 430.0 L1335.9 435.0 L1338.4 427.5 L1342.6 435.0 L1350.1 434.2 L1360.1 430.0 L1366.8 422.5 L1370.1 421.7 L1376.0 429.2 L1381.8 418.4 L1388.5 412.5 L1393.5 418.4 L1400.2 421.7 L1408.5 423.4 L1413.5 427.5 L1420.2 439.2 L1428.5 444.2 L1436.9 444.2 L1443.6 447.6 L1446.9 453.4 L1450.2 460.9 L1453.6 454.2 L1461.9 445.9 L1470.3 440.1 L1476.9 442.6 L1483.6 433.4 L1492.0 421.7 L1500.3 415.9 L1503.5 420.0" fill="none" stroke="#dedbd5" stroke-width="1.6"/>
</g>
<linearGradient id="bl" x1="0" x2="1" y1="0" y2="0"><stop offset="0" stop-color="#5a5374"/><stop offset="0.55" stop-color="#50597f"/><stop offset="1" stop-color="#5571a8"/></linearGradient>
<rect x="100.8" y="504.2" width="1402.7" height="2.3" fill="url(#bl)"/>
<rect x="100.8" y="506.5" width="1402.7" height="1.2" fill="#000000" fill-opacity="0.10"/>
<circle cx="826.5" cy="330.5" r="9.5" fill="#f7931a" fill-opacity="0.25"/>
<circle cx="826.5" cy="330.5" r="5.6" fill="#f7931a" stroke="#ffffff" stroke-width="1"/>
<circle cx="826.5" cy="361.3" r="10" fill="#3c3c6e" fill-opacity="0.25"/>
<path d="M826.5 355.1 L832.7 361.3 L826.5 367.5 L820.3 361.3 Z" fill="#3f3f72" stroke="#ffffff" stroke-width="1.2"/>
<circle cx="826.5" cy="419.5" r="5.9" fill="#dcdce0" stroke="#ffffff" stroke-width="1.4"/>
<path d="M826.5 454.5 L832.5 466.3 L820.5 466.3 Z" fill="#2aa3cf" stroke="#ffffff" stroke-width="1.3"/>
<path d="M820.5 489.7 L832.5 489.7 L826.5 500.5 Z" fill="#8a8a8a" stroke="#ffffff" stroke-width="1.3"/>
<circle cx="826.5" cy="505" r="9.5" fill="#2a6bcc" fill-opacity="0.3"/>
<path d="M826.5 499.5 L832.5 511 L820.5 511 Z" fill="#7a3fc4" stroke="#ffffff" stroke-width="1.2"/>
<rect x="814.5" y="511.5" width="24" height="6" fill="#ffffff" fill-opacity="0"/>
<g>
<rect x="557" y="209" width="256" height="236.5" rx="3" fill="#000000" fill-opacity="0.05"/>
<rect x="556.5" y="208.5" width="256" height="236" rx="3" fill="#000000" fill-opacity="0.06"/>
<rect x="555.5" y="207.5" width="256" height="236" rx="3" fill="#f7f7f7" fill-opacity="0.985" stroke="#cfcfcf" stroke-width="1"/>
<text x="567.8" y="233.6" font-size="11.5px" fill="#333333" textLength="229.5" lengthAdjust="spacing">Monday 2017-06-19 04:00:00 UTC+04:00</text>
<circle cx="572.8" cy="246.3" r="4.0" fill="#ee9336"/>
<text x="582.6" y="250.9" font-size="14.5px" fill="#333333" textLength="48.1" lengthAdjust="spacingAndGlyphs">Bitcoin:</text>
<text x="638.7" y="250.9" font-size="14.5px" font-weight="bold" fill="#333333" textLength="52.4" lengthAdjust="spacingAndGlyphs">37.84%</text>
<circle cx="572.8" cy="263.7" r="4.0" fill="#3f3f6c"/>
<text x="582.6" y="268.3" font-size="14.5px" fill="#333333" textLength="70.5" lengthAdjust="spacingAndGlyphs">Ethereum:</text>
<text x="657.7" y="268.3" font-size="14.5px" font-weight="bold" fill="#333333" textLength="52.4" lengthAdjust="spacingAndGlyphs">31.17%</text>
<circle cx="572.8" cy="281.1" r="4.0" fill="#ecb941"/>
<text x="582.6" y="285.7" font-size="14.5px" fill="#333333" textLength="93.5" lengthAdjust="spacingAndGlyphs">Binance Coin:</text>
<text x="681.3" y="285.7" font-size="14.5px" font-weight="bold" fill="#333333" textLength="42.6" lengthAdjust="spacingAndGlyphs">0.00%</text>
<circle cx="572.8" cy="298.5" r="4.0" fill="#25a0d6"/>
<text x="582.6" y="303.1" font-size="14.5px" fill="#333333" textLength="30.9" lengthAdjust="spacingAndGlyphs">XRP:</text>
<text x="618.0" y="303.1" font-size="14.5px" font-weight="bold" fill="#333333" textLength="43.0" lengthAdjust="spacingAndGlyphs">9.84%</text>
<circle cx="572.8" cy="315.9" r="4.0" fill="#57ad96"/>
<text x="582.6" y="320.5" font-size="14.5px" fill="#333333" textLength="49.2" lengthAdjust="spacingAndGlyphs">Tether:</text>
<text x="636.9" y="320.5" font-size="14.5px" font-weight="bold" fill="#333333" textLength="43.1" lengthAdjust="spacingAndGlyphs">0.12%</text>
<circle cx="572.8" cy="333.3" r="4.0" fill="#2f6cc8"/>
<text x="582.6" y="337.9" font-size="14.5px" fill="#333333" textLength="62.8" lengthAdjust="spacingAndGlyphs">Cardano:</text>
<text x="650.2" y="337.9" font-size="14.5px" font-weight="bold" fill="#333333" textLength="43.2" lengthAdjust="spacingAndGlyphs">0.00%</text>
<circle cx="572.8" cy="350.7" r="4.0" fill="#1d9c4c"/>
<text x="582.6" y="355.3" font-size="14.5px" fill="#333333" textLength="69.9" lengthAdjust="spacingAndGlyphs">Dogecoin:</text>
<text x="657.3" y="355.3" font-size="14.5px" font-weight="bold" fill="#333333" textLength="43.2" lengthAdjust="spacingAndGlyphs">0.32%</text>
<circle cx="572.8" cy="368.1" r="4.0" fill="#1f80cc"/>
<text x="582.6" y="372.7" font-size="14.5px" fill="#333333" textLength="64.6" lengthAdjust="spacingAndGlyphs">Polkadot:</text>
<text x="652.0" y="372.7" font-size="14.5px" font-weight="bold" fill="#333333" textLength="43.2" lengthAdjust="spacingAndGlyphs">0.00%</text>
<circle cx="572.8" cy="385.5" r="4.0" fill="#7b42c2"/>
<text x="582.6" y="390.1" font-size="14.5px" fill="#333333" textLength="62.8" lengthAdjust="spacingAndGlyphs">Uniswap:</text>
<text x="650.2" y="390.1" font-size="14.5px" font-weight="bold" fill="#333333" textLength="43.2" lengthAdjust="spacingAndGlyphs">0.00%</text>
<circle cx="572.8" cy="402.9" r="4.0" fill="#8a8a8a"/>
<text x="582.6" y="407.5" font-size="14.5px" fill="#333333" textLength="58.8" lengthAdjust="spacingAndGlyphs">Litecoin:</text>
<text x="645.8" y="407.5" font-size="14.5px" font-weight="bold" fill="#333333" textLength="43.6" lengthAdjust="spacingAndGlyphs">2.16%</text>
<circle cx="572.8" cy="420.3" r="4.0" fill="#dcdcdc"/>
<text x="582.6" y="424.9" font-size="14.5px" fill="#333333" textLength="50.4" lengthAdjust="spacingAndGlyphs">Others:</text>
<text x="638.2" y="424.9" font-size="14.5px" font-weight="bold" fill="#333333" textLength="52.8" lengthAdjust="spacingAndGlyphs">18.55%</text>
</g>
<line x1="99.8" x2="1504.0" y1="553.5" y2="553.5" stroke="#f7f7f7" stroke-width="1"/>
<rect x="99.8" y="559.5" width="1404.2" height="44.5" fill="#d6dcee"/>
<g font-size="12px" fill="#8d91a3">
<line x1="219.1" x2="219.1" y1="559.5" y2="604.0" stroke="#c3c9dc" stroke-width="1"/>
<text x="223.4" y="599.8" letter-spacing="0.6">2014</text>
<line x1="394.4" x2="394.4" y1="559.5" y2="604.0" stroke="#c3c9dc" stroke-width="1"/>
<text x="398.7" y="599.8" letter-spacing="0.6">2015</text>
<line x1="569.6" x2="569.6" y1="559.5" y2="604.0" stroke="#c3c9dc" stroke-width="1"/>
<text x="573.9" y="599.8" letter-spacing="0.6">2016</text>
<line x1="745.4" x2="745.4" y1="559.5" y2="604.0" stroke="#c3c9dc" stroke-width="1"/>
<text x="749.7" y="599.8" letter-spacing="0.6">2017</text>
<line x1="920.6" x2="920.6" y1="559.5" y2="604.0" stroke="#c3c9dc" stroke-width="1"/>
<text x="924.9" y="599.8" letter-spacing="0.6">2018</text>
<line x1="1095.9" x2="1095.9" y1="559.5" y2="604.0" stroke="#c3c9dc" stroke-width="1"/>
<text x="1100.2" y="599.8" letter-spacing="0.6">2019</text>
<line x1="1271.1" x2="1271.1" y1="559.5" y2="604.0" stroke="#c3c9dc" stroke-width="1"/>
<text x="1275.4" y="599.8" letter-spacing="0.6">2020</text>
<line x1="1446.9" x2="1446.9" y1="559.5" y2="604.0" stroke="#c3c9dc" stroke-width="1"/>
<text x="1451.2" y="599.8" letter-spacing="0.6">2021</text>
</g>
<path d="M100.8 563.7 L103.8 563.7 L106.8 563.6 L109.8 563.4 L112.8 563.2 L115.8 563.0 L118.8 563.0 L121.8 562.9 L124.8 563.0 L127.8 563.3 L130.8 563.7 L133.8 563.9 L136.8 563.9 L139.8 563.8 L142.8 564.3 L145.8 565.1 L148.8 565.4 L151.8 565.2 L154.8 565.1 L157.8 564.7 L160.8 564.4 L163.8 564.4 L166.8 564.7 L169.8 565.2 L172.8 565.7 L175.8 565.6 L178.8 565.1 L181.8 564.4 L184.8 563.7 L187.8 563.3 L190.8 563.2 L193.8 562.9 L196.8 562.6 L199.8 563.2 L202.8 565.2 L205.8 566.8 L208.8 567.1 L211.8 566.6 L214.8 566.6 L217.8 567.0 L220.8 567.1 L223.8 566.7 L226.8 566.5 L229.8 566.5 L232.8 566.6 L235.8 566.6 L238.8 566.7 L241.8 566.9 L244.8 567.1 L247.8 567.5 L250.8 567.7 L253.8 567.7 L256.8 567.6 L259.8 567.3 L262.8 566.6 L265.8 566.1 L268.8 566.0 L271.8 566.0 L274.8 566.0 L277.8 565.9 L280.8 565.9 L283.8 566.0 L286.8 565.8 L289.8 565.5 L292.8 565.1 L295.8 564.9 L298.8 564.8 L301.8 564.7 L304.8 564.4 L307.8 564.1 L310.8 564.0 L313.8 564.1 L316.8 564.2 L319.8 564.2 L322.8 564.0 L325.8 563.8 L328.8 563.7 L331.8 564.0 L334.8 564.5 L337.8 564.9 L340.8 565.2 L343.8 565.5 L346.8 565.9 L349.8 566.3 L352.8 566.3 L355.8 566.1 L358.8 565.8 L361.8 565.7 L364.8 565.8 L367.8 565.7 L370.8 565.7 L373.8 566.1 L376.8 566.9 L379.8 567.6 L382.8 568.4 L385.8 569.8 L388.8 571.7 L391.8 572.9 L394.8 572.5 L397.8 572.0 L400.8 571.9 L403.8 571.8 L406.8 571.4 L409.8 571.1 L412.8 571.0 L415.8 570.8 L418.8 570.3 L421.8 569.7 L424.8 568.8 L427.8 568.2 L430.8 568.1 L433.8 568.1 L436.8 567.9 L439.8 567.8 L442.8 567.8 L445.8 567.8 L448.8 567.7 L451.8 567.4 L454.8 567.2 L457.8 567.0 L460.8 567.1 L463.8 567.7 L466.8 568.2 L469.8 568.5 L472.8 568.7 L475.8 569.3 L478.8 569.9 L481.8 570.0 L484.8 569.5 L487.8 568.9 L490.8 568.5 L493.8 568.5 L496.8 568.7 L499.8 569.1 L502.8 569.6 L505.8 569.9 L508.8 570.0 L511.8 569.9 L514.8 569.7 L517.8 569.6 L520.8 569.3 L523.8 568.8 L526.8 568.2 L529.8 567.7 L532.8 567.2 L535.8 566.8 L538.8 566.6 L541.8 566.3 L544.8 565.9 L547.8 565.8 L550.8 565.7 L553.8 565.6 L556.8 565.6 L559.8 565.7 L562.8 565.6 L565.8 565.3 L568.8 565.3 L571.8 565.3 L574.8 565.4 L577.8 565.8 L580.8 566.3 L583.8 567.0 L586.8 567.9 L589.8 568.7 L592.8 568.9 L595.8 569.1 L598.8 570.3 L601.8 572.2 L604.8 573.1 L607.8 572.8 L610.8 572.2 L613.8 572.3 L616.8 571.8 L619.8 571.1 L622.8 570.7 L625.8 570.4 L628.8 570.5 L631.8 570.7 L634.8 571.3 L637.8 572.1 L640.8 572.2 L643.8 571.6 L646.8 571.2 L649.8 570.3 L652.8 570.0 L655.8 570.4 L658.8 570.4 L661.8 570.4 L664.8 570.8 L667.8 571.3 L670.8 571.6 L673.8 571.8 L676.8 572.0 L679.8 572.1 L682.8 572.0 L685.8 572.0 L688.8 572.0 L691.8 572.0 L694.8 572.1 L697.8 572.4 L700.8 572.4 L703.8 572.1 L706.8 571.8 L709.8 571.5 L712.8 571.1 L715.8 570.6 L718.8 570.2 L721.8 569.9 L724.8 569.5 L727.8 569.1 L730.8 568.6 L733.8 568.3 L736.8 568.3 L739.8 568.1 L742.8 567.7 L745.8 567.7 L748.8 568.2 L751.8 568.8 L754.8 569.0 L757.8 569.0 L760.8 568.9 L763.8 568.8 L766.8 568.8 L769.8 568.7 L772.8 568.7 L775.8 569.2 L778.8 570.7 L781.8 574.0 L784.8 577.5 L787.8 579.4 L790.8 579.4 L793.8 579.1 L796.8 579.4 L799.8 580.5 L802.8 582.3 L805.8 585.0 L808.8 587.8 L811.8 590.3 L814.8 591.1 L817.8 591.4 L820.8 592.5 L823.8 594.3 L826.8 595.5 L829.8 595.4 L832.8 594.4 L835.8 593.2 L838.8 591.9 L841.8 591.0 L844.8 590.1 L847.8 589.9 L850.8 590.2 L853.8 590.6 L856.8 591.0 L859.8 591.8 L862.8 591.9 L865.8 591.4 L868.8 590.9 L871.8 590.8 L874.8 590.7 L877.8 590.2 L880.8 589.0 L883.8 587.2 L886.8 585.6 L889.8 584.7 L892.8 584.4 L895.8 585.7 L898.8 586.9 L901.8 586.8 L904.8 586.8 L907.8 585.4 L910.8 584.4 L913.8 586.4 L916.8 590.5 L919.8 594.1 L922.8 597.1 L925.8 598.8 L928.8 599.0 L931.8 598.9 L934.8 598.7 L937.8 598.5 L940.8 598.2 L943.8 597.5 L946.8 596.5 L949.8 595.3 L952.8 594.3 L955.8 593.6 L958.8 593.1 L961.8 592.7 L964.8 592.4 L967.8 592.6 L970.8 593.6 L973.8 595.0 L976.8 596.4 L979.8 597.2 L982.8 597.5 L985.8 597.3 L988.8 596.8 L991.8 596.6 L994.8 596.5 L997.8 596.3 L1000.8 595.6 L1003.8 594.9 L1006.8 594.3 L1009.8 594.0 L1012.8 593.8 L1015.8 593.1 L1018.8 592.1 L1021.8 591.4 L1024.8 590.8 L1027.8 589.9 L1030.8 588.8 L1033.8 588.0 L1036.8 587.5 L1039.8 587.0 L1042.8 586.5 L1045.8 587.1 L1048.8 588.1 L1051.8 588.7 L1054.8 588.1 L1057.8 587.4 L1060.8 587.1 L1063.8 587.3 L1066.8 587.6 L1069.8 588.0 L1072.8 588.1 L1075.8 587.9 L1078.8 587.5 L1081.8 587.2 L1084.8 586.9 L1087.8 586.9 L1090.8 587.6 L1093.8 588.3 L1096.8 588.5 L1099.8 588.3 L1102.8 588.1 L1105.8 587.9 L1108.8 587.8 L1111.8 587.7 L1114.8 587.8 L1117.8 588.0 L1120.8 588.1 L1123.8 588.1 L1126.8 588.4 L1129.8 588.7 L1132.8 589.0 L1135.8 589.2 L1138.8 589.3 L1141.8 589.2 L1144.8 588.8 L1147.8 588.1 L1150.8 587.4 L1153.8 586.5 L1156.8 585.5 L1159.8 584.9 L1162.8 585.0 L1165.8 585.4 L1168.8 585.7 L1171.8 586.0 L1174.8 585.7 L1177.8 585.0 L1180.8 583.8 L1183.8 582.9 L1186.8 581.8 L1189.8 581.0 L1192.8 580.7 L1195.8 580.8 L1198.8 580.3 L1201.8 579.3 L1204.8 578.8 L1207.8 578.7 L1210.8 578.5 L1213.8 578.1 L1216.8 578.0 L1219.8 578.2 L1222.8 578.6 L1225.8 579.0 L1228.8 579.3 L1231.8 579.6 L1234.8 579.7 L1237.8 579.4 L1240.8 579.1 L1243.8 579.3 L1246.8 579.8 L1249.8 580.1 L1252.8 580.1 L1255.8 579.9 L1258.8 579.8 L1261.8 579.8 L1264.8 579.3 L1267.8 578.9 L1270.8 578.7 L1273.8 578.9 L1276.8 579.1 L1279.8 579.6 L1282.8 580.0 L1285.8 580.4 L1288.8 581.0 L1291.8 581.6 L1294.8 582.0 L1297.8 581.9 L1300.8 581.5 L1303.8 581.3 L1306.8 581.4 L1309.8 581.2 L1312.8 581.0 L1315.8 580.9 L1318.8 580.9 L1321.8 581.2 L1324.8 581.4 L1327.8 581.1 L1330.8 580.4 L1333.8 579.9 L1336.8 580.1 L1339.8 580.4 L1342.8 580.4 L1345.8 580.5 L1348.8 580.7 L1351.8 580.8 L1354.8 580.8 L1357.8 580.9 L1360.8 581.2 L1363.8 581.8 L1366.8 582.3 L1369.8 582.7 L1372.8 583.0 L1375.8 583.3 L1378.8 583.7 L1381.8 584.2 L1384.8 584.4 L1387.8 584.6 L1390.8 585.0 L1393.8 585.3 L1396.8 585.2 L1399.8 584.9 L1402.8 584.8 L1405.8 584.7 L1408.8 584.5 L1411.8 584.2 L1414.8 583.4 L1417.8 582.2 L1420.8 581.4 L1423.8 581.0 L1426.8 581.1 L1429.8 581.7 L1432.8 582.1 L1435.8 582.1 L1438.8 581.6 L1441.8 580.5 L1444.8 579.1 L1447.8 578.3 L1450.8 578.6 L1453.8 579.5 L1456.8 580.7 L1459.8 581.9 L1462.8 582.6 L1465.8 582.9 L1468.8 583.0 L1471.8 582.9 L1474.8 582.9 L1477.8 583.2 L1480.8 583.2 L1483.8 583.2 L1486.8 583.6 L1489.8 584.2 L1492.8 585.3 L1495.8 586.7 L1498.8 588.1 L1501.8 589.0 L1503.5 589.2" fill="none" stroke="#c9ab90" stroke-width="1.5" stroke-linejoin="round"/>
<rect x="95.8" y="573.5" width="8" height="15" fill="#f4f4f4" stroke="#b8b8b8" stroke-width="1"/>
<path d="M98.8 577.5 V584.5 M100.8 577.5 V584.5" stroke="#b0b0b0" stroke-width="0.8" fill="none"/>
<rect x="1500.0" y="573.5" width="8" height="15" fill="#f4f4f4" stroke="#b8b8b8" stroke-width="1"/>
<path d="M1503.0 577.5 V584.5 M1505.0 577.5 V584.5" stroke="#b0b0b0" stroke-width="0.8" fill="none"/>
<g font-size="13.5px" font-weight="bold" fill="#4d7ba3">
<circle cx="246.8" cy="628.3" r="6.6" fill="#f08e2c"/>
<text x="261.8" y="633.6" textLength="43.7" lengthAdjust="spacing">Bitcoin</text>
<circle cx="336" cy="628.3" r="6.6" fill="#3f3f6c"/>
<text x="350.5" y="633.6" textLength="62.5" lengthAdjust="spacing">Ethereum</text>
<circle cx="443.5" cy="628.3" r="6.6" fill="#ecb533"/>
<text x="458" y="633.6" textLength="85.0" lengthAdjust="spacing">Binance Coin</text>
<circle cx="573.5" cy="628.3" r="6.6" fill="#1f9ed8"/>
<text x="588" y="633.6" textLength="25.0" lengthAdjust="spacing">XRP</text>
<circle cx="643" cy="628.3" r="6.6" fill="#57ad96"/>
<text x="657.5" y="633.6" textLength="42.5" lengthAdjust="spacing">Tether</text>
<circle cx="731" cy="628.3" r="6.6" fill="#2a68c8"/>
<text x="745.5" y="633.6" textLength="54.5" lengthAdjust="spacing">Cardano</text>
<circle cx="830.7" cy="628.3" r="6.6" fill="#169c48"/>
<text x="845.7" y="633.6" textLength="61.0" lengthAdjust="spacing">Dogecoin</text>
<circle cx="937.5" cy="628.3" r="6.6" fill="#1b7fcf"/>
<text x="952.5" y="633.6" textLength="56.9" lengthAdjust="spacing">Polkadot</text>
<circle cx="1039" cy="628.3" r="6.6" fill="#7a3fc4"/>
<text x="1054" y="633.6" textLength="55.0" lengthAdjust="spacing">Uniswap</text>
<circle cx="1139" cy="628.3" r="6.6" fill="#858585"/>
<text x="1154" y="633.6" textLength="52.0" lengthAdjust="spacing">Litecoin</text>
<circle cx="1236.3" cy="628.3" r="6.6" fill="#dcdcdc"/>
<text x="1250.7" y="633.6" textLength="43.6" lengthAdjust="spacing">Others</text>
</g>
<text x="1504" y="656.6" text-anchor="end" font-size="10px" fill="#8c8c8c" textLength="92.8" lengthAdjust="spacing">coinmarketcap.com</text>
</svg></body></html>
